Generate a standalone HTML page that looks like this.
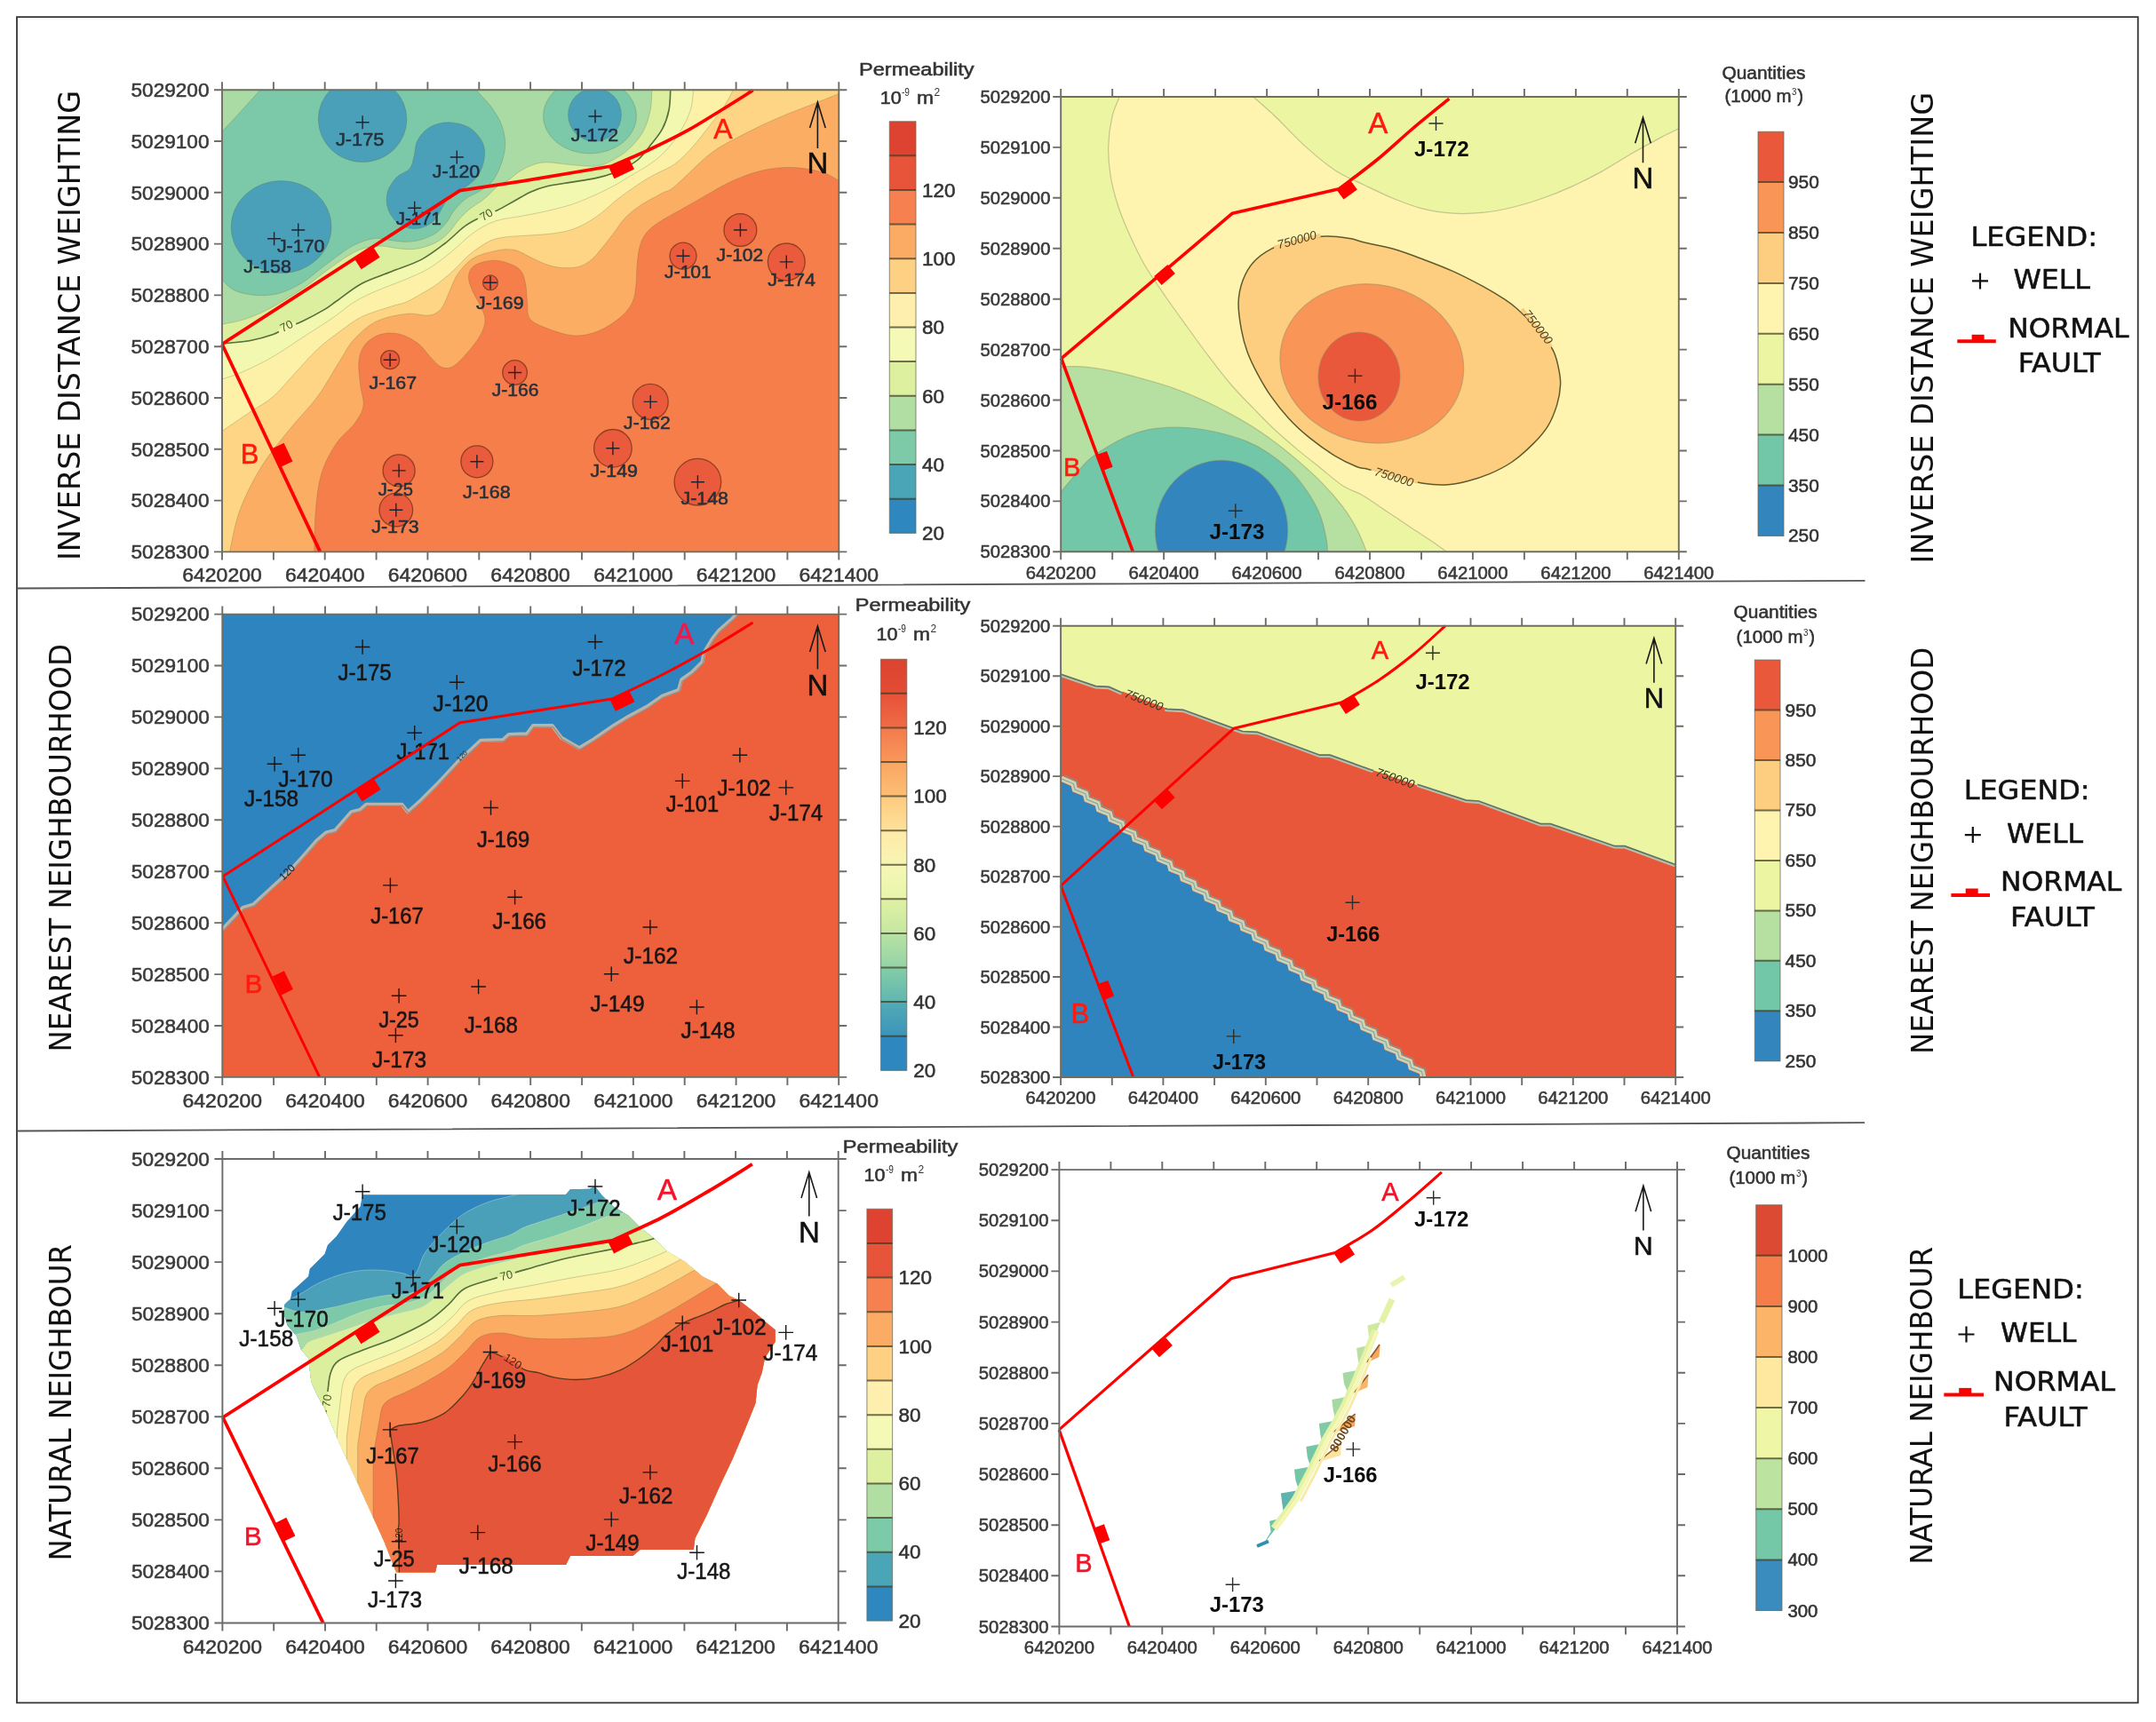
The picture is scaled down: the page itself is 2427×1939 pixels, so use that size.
<!DOCTYPE html>
<html><head><meta charset="utf-8"><title>Interpolation maps</title>
<style>html,body{margin:0;padding:0;background:#fff}svg{display:block;filter:blur(0.75px)}text{font-family:"Liberation Sans",sans-serif}</style>
</head><body>
<svg width="2427" height="1939" viewBox="0 0 2427 1939">
<rect x="0" y="0" width="2427" height="1939" fill="#ffffff"/>
<path d="M19 19.2H2406.7V1917.3H19Z" stroke="#333" stroke-width="1.8" fill="none"/>
<path d="M19 662.5L2099.5 653.8M19 1273.5L2099 1264.2" stroke="#555" stroke-width="1.8" fill="none"/>
<clipPath id="cp1"><rect x="250" y="101.2" width="694.3" height="520.2"/></clipPath>
<g clip-path="url(#cp1)">
<rect x="249" y="100.2" width="696.3" height="522.2" fill="#aadba5"/>
<path d="M249.7 315C252.3 317.1 258.4 324.6 265.1 327.5C271.9 330.4 281.8 332.2 290.2 332.6C298.6 333 306.9 332.4 315.3 330C323.7 327.6 332 323.4 340.4 318.3C348.8 313.2 357.1 305.4 365.5 299.1C373.9 292.8 383.6 285.2 390.6 280.7C397.6 276.2 401.7 274.4 407.3 272.3C412.9 270.2 418.4 268.5 424 268.2C429.6 267.9 435.1 270 440.7 270.7C446.3 271.4 451.9 272.4 457.5 272.3C463.1 272.2 468.6 271.5 474.2 269.8C479.8 268.1 486.2 265.5 490.9 262.3C495.6 259.1 499.2 254.8 502.6 250.6C506 246.4 507.4 241.7 511 237.2C514.6 232.7 519.4 227.6 524.4 223.8C529.4 220 536.1 217.9 541.1 214.6C546.1 211.3 550.6 209 554.5 203.8C558.4 198.7 562.1 190.7 564.5 183.7C566.9 176.7 568.7 169.2 568.7 161.9C568.7 154.7 567.1 147.2 564.5 140.2C561.9 133.2 557 125.9 552.8 120.1C548.6 114.2 542.2 108.4 539.4 105.1C536.6 101.8 536.6 100.8 536.1 100L294 100C290.3 104.1 279.4 116.4 272 124.5C264.6 132.6 253.4 144.6 249.7 148.6Z" fill="#7bc9a8" stroke="#6b6b3a" stroke-opacity="0.28" stroke-width="1"/>
<ellipse cx="664" cy="130.5" rx="52.5" ry="42.5" fill="#7bc9a8" stroke="#6b6b3a" stroke-opacity="0.28" stroke-width="1"/>
<ellipse cx="408.1" cy="134.3" rx="49.8" ry="48.3" fill="#4aa0b8" stroke="#6b6b3a" stroke-opacity="0.28" stroke-width="1"/>
<ellipse cx="316.6" cy="255.6" rx="56.5" ry="52" fill="#4aa0b8" stroke="#6b6b3a" stroke-opacity="0.28" stroke-width="1"/>
<circle cx="669.5" cy="129.3" r="30" fill="#4aa0b8" stroke="#6b6b3a" stroke-opacity="0.28" stroke-width="1"/>
<path d="M505 137.7C512.3 137.8 521.7 139.8 528 143.5C534.3 147.2 540.1 154.2 543 160C545.9 165.8 546.1 171.7 545.3 178C544.5 184.3 541.9 192.3 538 198C534.1 203.7 527.3 208.5 522 212C516.7 215.5 509.8 215.7 506 219C502.2 222.3 502.2 226.8 499 232C495.8 237.2 492.2 245.8 487 250C481.8 254.2 474.3 257.2 468 257.5C461.7 257.8 454.2 255.6 449 252C443.8 248.4 439.2 241.8 437 236C434.8 230.2 434.5 223 436 217C437.5 211 441.8 204.5 446 200C450.2 195.5 457.7 194 461 190C464.3 186 464.5 181.3 466 176C467.5 170.7 467 163.5 470 158C473 152.5 478.2 146.4 484 143C489.8 139.6 497.7 137.6 505 137.7Z" fill="#4aa0b8" stroke="#6b6b3a" stroke-opacity="0.28" stroke-width="1"/>
<path d="M250 365.1C253.9 364.3 265.4 362.6 273.5 360.1C281.6 357.6 290.8 353.7 298.5 350C306.2 346.3 312.2 342.7 320 338C327.8 333.3 336.7 327.8 345 322C353.3 316.2 361.7 309 370 303C378.3 297 388 290 395 286C402 282 406.2 280.5 412 279C417.8 277.5 423.7 276.8 430 277C436.3 277.2 443.3 279.5 450 280C456.7 280.5 463.2 281.2 470 280C476.8 278.8 485.1 276 490.9 273C496.7 270 500.8 266.2 505 262C509.2 257.8 512.2 252.3 516 248C519.8 243.7 523.2 240 528 236C532.8 232 539.7 228.3 545 224C550.3 219.7 555.5 213.5 560 210C564.5 206.5 567.8 205.8 572 203C576.2 200.2 580.3 195.9 585 193C589.7 190.1 594.9 187.3 600 185.6C605.1 183.9 608.5 182.8 615.8 182.8C623.1 182.8 634.3 184.9 643.6 185.6C652.9 186.3 663.8 187.9 671.5 187C679.2 186.1 684.1 183.1 690 180C695.9 176.9 701.5 173.8 707.1 168.6C712.7 163.3 719.6 156 723.8 148.5C728 141 730.5 131.6 732.2 123.5C733.9 115.4 733.6 103.9 733.9 100L946.3 99.2L946.3 623.4L249 623.4Z" fill="#dcef9f" stroke="#6b6b3a" stroke-opacity="0.28" stroke-width="1"/>
<path d="M250 386.8C251.7 386.7 254.8 386.6 260.1 386C265.4 385.4 274 385 281.8 383.5C289.6 382 299.9 379.3 306.9 376.8C313.9 374.3 318 370.9 323.6 368.4C329.2 365.9 333.4 365 340.4 361.7C347.4 358.4 359.1 352.2 365.5 348.4C371.9 344.6 371.8 343.9 378.8 339C385.8 334.1 397 324.7 407.3 319.2C417.6 313.7 429.6 310.3 440.7 305.8C451.8 301.3 464.1 297.7 474.2 292.4C484.2 287.1 492.6 280.4 501 274C509.4 267.6 516.3 259.5 524.4 253.9C532.5 248.3 543.6 243.4 549.5 240.5C555.4 237.6 555.1 239 560 236.7C564.9 234.4 572.4 229.9 578.6 226.5C584.8 223.1 591 219 597.2 216.2C603.4 213.4 608.1 211.5 615.8 209.7C623.5 207.8 634.3 206.6 643.6 205.1C652.9 203.6 663.8 202.1 671.5 200.4C679.2 198.7 684.7 196.9 690.1 194.9C695.5 192.9 699.4 190.9 704 188.4C708.6 185.9 713.3 184.1 718 180C722.7 175.9 727.6 169.4 732.2 163.6C736.8 157.8 742.1 151.9 745.6 145.2C749.1 138.5 751.6 131 753.1 123.5C754.6 116 754.5 103.9 754.8 100L946.3 99.2L946.3 623.4L249 623.4Z" fill="#f3f8b1" stroke="#6b6b3a" stroke-opacity="0.28" stroke-width="1"/>
<path d="M250 427C253.9 425.6 264 422.8 273.5 418.6C283 414.4 295.8 408.3 306.9 401.9C318 395.5 329.2 387.4 340.4 380.1C351.5 372.9 364.1 365.1 373.8 358.4C383.6 351.7 390.5 345.1 398.9 340C407.3 334.9 414.2 331.8 424 327.5C433.8 323.2 447.7 318.4 457.5 314.2C467.3 310 474.2 307.4 482.6 302.4C491 297.4 499.2 290.7 507.6 284C516 277.3 524.3 268.2 532.7 262.3C541.1 256.4 548.6 252.1 557.8 248.9C567 245.7 578.2 245.1 587.9 243.2C597.6 241.3 606.5 239.8 615.8 237.6C625.1 235.4 635.1 233 643.6 230.2C652.1 227.4 659.1 224.3 666.9 220.9C674.6 217.5 683.1 213.4 690.1 209.7C697.1 206 701.7 202.8 708.7 198.6C715.7 194.4 725.2 189.3 731.9 184.6C738.6 179.9 743.3 176.3 748.9 170.3C754.5 164.3 760.9 156.3 765.6 148.5C770.4 140.7 774.9 131.6 777.4 123.5C779.9 115.4 780.2 103.9 780.7 100L946.3 99.2L946.3 623.4L249 623.4Z" fill="#fdf0a7" stroke="#6b6b3a" stroke-opacity="0.28" stroke-width="1"/>
<path d="M250 485.5C255.3 481.9 272.3 470.2 281.8 463.8C291.3 457.4 298.5 454.4 306.9 447.1C315.3 439.9 323.6 429.2 332 420.3C340.4 411.4 348.7 401.3 357.1 393.5C365.5 385.7 373.8 379.6 382.2 373.5C390.6 367.4 397.6 361.4 407.3 356.7C417.1 351.9 432.3 347.8 440.7 345C449.1 342.2 451.9 342.4 457.5 340C463.1 337.6 468.6 334.1 474.2 330.9C479.8 327.7 484.8 325.3 490.9 320.8C497 316.3 504.9 309.7 511 304.1C517.1 298.5 521.3 292.7 527.7 287.4C534.1 282.1 543.1 275.6 549.5 272.3C555.9 269 559.8 268.4 566.2 267.3C572.6 266.2 579.6 266.1 587.9 265.5C596.2 264.9 607.3 264.5 615.8 263.6C624.3 262.7 632 261.8 639 259.9C646 258 651.4 255.8 657.6 252.5C663.8 249.2 670 245.1 676.2 240.4C682.4 235.8 687.8 230 694.8 224.6C701.8 219.2 711 212.6 718 207.9C725 203.2 729.6 200.6 736.6 196.7C743.6 192.8 752.6 189.9 759.8 184.6C767 179.3 773.3 172.4 780 165C786.7 157.6 794.2 147.5 800 140C805.8 132.5 810.7 126.7 815 120C819.3 113.3 824.2 103.3 826 100L946.3 99.2L946.3 623.4L249 623.4Z" fill="#fdd585" stroke="#6b6b3a" stroke-opacity="0.28" stroke-width="1"/>
<path d="M258.4 622.5C260.3 614.5 264 590.6 270.1 574.2C276.2 557.8 285.7 539.3 295.2 524C304.7 508.7 316.7 495 327 482.2C337.3 469.4 347.9 459.7 357.1 447.1C366.3 434.6 375.2 417.8 382.2 406.9C389.2 396 391.9 389.3 398.9 381.8C405.9 374.3 414.2 366.4 424 361.7C433.8 357 447.7 354.5 457.5 353.4C467.3 352.3 476.5 355.7 482.6 355.1C488.7 354.5 491.2 352.5 494.3 350C497.4 347.5 498.8 344.3 501 340C503.2 335.7 505.1 329.6 507.6 324.2C510.1 318.8 511.8 313.1 516 307.5C520.2 301.9 525.7 294.9 532.7 290.7C539.7 286.5 550.1 284 557.8 282.4C565.4 280.8 572 280.1 578.6 281.3C585.2 282.5 591 286.9 597.2 289.7C603.4 292.5 609.6 296 615.8 298C622 300 628.1 301.4 634.3 301.7C640.5 302 647.5 301.6 652.9 299.9C658.3 298.2 662.5 295.2 666.9 291.5C671.2 287.8 675.1 282.2 679 277.6C682.9 273 685.9 269 690.1 263.6C694.3 258.2 698.6 250.6 704 245C709.4 239.4 715.6 234.8 722.6 230.2C729.6 225.6 739.7 220.6 745.9 217.2C752.1 213.8 750.9 217 759.8 209.7C768.7 202.4 787 182.9 799.1 173.6C811.2 164.2 820.1 160.3 832.6 153.6C845.1 146.9 860.5 139.6 874.4 133.5C888.3 127.4 904.4 121.5 916.2 116.8C928 112.1 940.4 107 945.3 105.1L946.3 99.2L946.3 623.4L249 623.4Z" fill="#fbad64" stroke="#6b6b3a" stroke-opacity="0.28" stroke-width="1"/>
<path d="M353.8 622.5C354.1 614.5 354 589.2 355.4 574.2C356.8 559.2 358.2 545 362.1 532.4C366 519.8 372.7 508.1 378.8 498.9C384.9 489.7 393.9 484.2 398.9 477.2C403.9 470.2 407.9 464.4 409 457.1C410.1 449.9 406.5 442.1 405.6 433.7C404.8 425.3 403.1 414.4 403.9 406.9C404.7 399.4 406.7 393.5 410.6 388.5C414.5 383.5 421 378.9 427.4 376.8C433.8 374.7 441.9 374.3 449.1 376C456.3 377.7 464.7 382.2 470.8 386.8C476.9 391.4 481.4 399.1 485.9 403.6C490.4 408.1 493.4 412.2 497.6 413.6C501.8 415 506 415 511 411.9C516 408.8 522.7 401 527.7 395.2C532.7 389.4 538 382.6 541.1 376.8C544.2 371 546.1 365.4 546.1 360.1C546.1 354.8 543.3 350 541.1 345C538.9 340 535.2 335 533 330C530.8 325 528.2 319.5 527.7 315C527.2 310.5 527.8 306.2 530 303C532.2 299.8 536.5 297.4 541.1 295.8C545.7 294.2 552.3 293 557.8 293.2C563.3 293.4 569.2 295.2 573.9 297.1C578.6 299 583 300.8 586 304.5C589 308.2 590.4 313.5 591.6 319.4C592.9 325.3 592.8 333.6 593.5 340C594.2 346.4 593 353.3 596 358C599 362.7 603.3 364.7 611.5 368C619.7 371.3 634.8 377 645 377.8C655.2 378.6 663.9 376.5 672.9 373C681.9 369.5 692.2 362.5 698.7 357C705.2 351.5 709.1 346.2 712 340C714.9 333.8 715.2 326.7 716 320C716.8 313.3 716.3 307 717 300C717.7 293 718.3 284.2 720 278C721.7 271.8 723.5 267.6 727 263C730.5 258.4 734.9 254.9 741.2 250.6C747.5 246.3 756.5 241.7 764.8 237C773 232.3 780.8 227.7 790.7 222.2C800.6 216.7 813.1 208.8 824.2 203.8C835.4 198.8 846.5 194.6 857.6 192C868.8 189.4 879.9 188.2 891.1 188.5C902.3 188.8 915.6 191.1 924.6 193.7C933.6 196.2 941.8 202.1 945.3 203.8L946.3 99.2L946.3 623.4L249 623.4Z" fill="#f57e4a" stroke="#6b6b3a" stroke-opacity="0.28" stroke-width="1"/>
<path d="M250 386.8C251.7 386.7 254.8 386.6 260.1 386C265.4 385.4 274 385 281.8 383.5C289.6 382 299.9 379.3 306.9 376.8C313.9 374.3 318 370.9 323.6 368.4C329.2 365.9 333.4 365 340.4 361.7C347.4 358.4 359.1 352.2 365.5 348.4C371.9 344.6 371.8 343.9 378.8 339C385.8 334.1 397 324.7 407.3 319.2C417.6 313.7 429.6 310.3 440.7 305.8C451.8 301.3 464.1 297.7 474.2 292.4C484.2 287.1 492.6 280.4 501 274C509.4 267.6 516.3 259.5 524.4 253.9C532.5 248.3 543.6 243.4 549.5 240.5C555.4 237.6 555.1 239 560 236.7C564.9 234.4 572.4 229.9 578.6 226.5C584.8 223.1 591 219 597.2 216.2C603.4 213.4 608.1 211.5 615.8 209.7C623.5 207.8 634.3 206.6 643.6 205.1C652.9 203.6 663.8 202.1 671.5 200.4C679.2 198.7 684.7 196.9 690.1 194.9C695.5 192.9 699.4 190.9 704 188.4C708.6 185.9 713.3 184.1 718 180C722.7 175.9 727.6 169.4 732.2 163.6C736.8 157.8 742.1 151.9 745.6 145.2C749.1 138.5 751.6 131 753.1 123.5C754.6 116 754.5 103.9 754.8 100" stroke="#55703a" stroke-width="1.6" fill="none"/>
<g transform="rotate(-27 324.5 371)"><rect x="314" y="362.3" width="21" height="4.2" fill="#dcef9f"/><rect x="314" y="366.3" width="21" height="4" fill="#f3f8b1"/><text x="324.5" y="371" font-size="13" fill="#4a5a28" text-anchor="middle">70</text></g>
<g transform="rotate(-32 549.8 245.5)"><rect x="539.3" y="236.8" width="21" height="4.2" fill="#dcef9f"/><rect x="539.3" y="240.8" width="21" height="4" fill="#f3f8b1"/><text x="549.8" y="245.5" font-size="13" fill="#4a5a28" text-anchor="middle">70</text></g>
<circle cx="552" cy="318.3" r="8.4" fill="#e95b3c" stroke="#7a3418" stroke-opacity="0.8" stroke-width="1.3"/>
<circle cx="833.4" cy="259" r="18.4" fill="#e95b3c" stroke="#7a3418" stroke-opacity="0.8" stroke-width="1.3"/>
<circle cx="769" cy="288.2" r="15" fill="#e95b3c" stroke="#7a3418" stroke-opacity="0.8" stroke-width="1.3"/>
<circle cx="885.3" cy="294.9" r="20.9" fill="#e95b3c" stroke="#7a3418" stroke-opacity="0.8" stroke-width="1.3"/>
<circle cx="439.1" cy="405.2" r="10.5" fill="#e95b3c" stroke="#7a3418" stroke-opacity="0.8" stroke-width="1.3"/>
<circle cx="579.6" cy="419.5" r="13.8" fill="#e95b3c" stroke="#7a3418" stroke-opacity="0.8" stroke-width="1.3"/>
<circle cx="449.1" cy="529.9" r="18" fill="#e95b3c" stroke="#7a3418" stroke-opacity="0.8" stroke-width="1.3"/>
<circle cx="536.9" cy="519.8" r="18" fill="#e95b3c" stroke="#7a3418" stroke-opacity="0.8" stroke-width="1.3"/>
<circle cx="445.8" cy="574.2" r="18.8" fill="#e95b3c" stroke="#7a3418" stroke-opacity="0.8" stroke-width="1.3"/>
<circle cx="732.2" cy="452.4" r="20" fill="#e95b3c" stroke="#7a3418" stroke-opacity="0.8" stroke-width="1.3"/>
<circle cx="689.9" cy="504.8" r="21.3" fill="#e95b3c" stroke="#7a3418" stroke-opacity="0.8" stroke-width="1.3"/>
<circle cx="785.4" cy="542.7" r="26.3" fill="#e95b3c" stroke="#7a3418" stroke-opacity="0.8" stroke-width="1.3"/>
</g>
<path d="M400.6 137.7H415.6M408.1 130.2V145.2" stroke="#1d2430" stroke-width="1.4" fill="none"/>
<text x="378" y="163.6" font-size="21" fill="#26303a" textLength="54.4" lengthAdjust="spacingAndGlyphs" stroke="#26303a" stroke-width="0.55">J-175</text>
<path d="M506.8 177H521.8M514.3 169.5V184.5" stroke="#1d2430" stroke-width="1.4" fill="none"/>
<text x="486.7" y="200.4" font-size="21" fill="#26303a" textLength="53.6" lengthAdjust="spacingAndGlyphs" stroke="#26303a" stroke-width="0.55">J-120</text>
<path d="M459.2 234.2H474.2M466.7 226.7V241.7" stroke="#1d2430" stroke-width="1.4" fill="none"/>
<text x="445.8" y="253.1" font-size="21" fill="#26303a" textLength="51" lengthAdjust="spacingAndGlyphs" stroke="#26303a" stroke-width="0.55">J-171</text>
<path d="M328.2 259H343.2M335.7 251.5V266.5" stroke="#1d2430" stroke-width="1.4" fill="none"/>
<text x="311.9" y="284" font-size="21" fill="#26303a" textLength="53.6" lengthAdjust="spacingAndGlyphs" stroke="#26303a" stroke-width="0.55">J-170</text>
<path d="M301.1 268.7H316.1M308.6 261.2V276.2" stroke="#1d2430" stroke-width="1.4" fill="none"/>
<text x="274.3" y="306.6" font-size="21" fill="#26303a" textLength="53.5" lengthAdjust="spacingAndGlyphs" stroke="#26303a" stroke-width="0.55">J-158</text>
<path d="M544.5 318.3H559.5M552 310.8V325.8" stroke="#1d2430" stroke-width="1.4" fill="none"/>
<text x="536.1" y="347.6" font-size="21" fill="#26303a" textLength="53.5" lengthAdjust="spacingAndGlyphs" stroke="#26303a" stroke-width="0.55">J-169</text>
<path d="M662.5 131H677.5M670 123.5V138.5" stroke="#1d2430" stroke-width="1.4" fill="none"/>
<text x="642.7" y="159.4" font-size="21" fill="#26303a" textLength="53.5" lengthAdjust="spacingAndGlyphs" stroke="#26303a" stroke-width="0.55">J-172</text>
<path d="M825.9 259H840.9M833.4 251.5V266.5" stroke="#1d2430" stroke-width="1.4" fill="none"/>
<text x="806.6" y="294.1" font-size="21" fill="#26303a" textLength="52.7" lengthAdjust="spacingAndGlyphs" stroke="#26303a" stroke-width="0.55">J-102</text>
<path d="M761.5 288.2H776.5M769 280.7V295.7" stroke="#1d2430" stroke-width="1.4" fill="none"/>
<text x="748.1" y="312.5" font-size="21" fill="#26303a" textLength="52.7" lengthAdjust="spacingAndGlyphs" stroke="#26303a" stroke-width="0.55">J-101</text>
<path d="M877.8 294.9H892.8M885.3 287.4V302.4" stroke="#1d2430" stroke-width="1.4" fill="none"/>
<text x="864.3" y="321.7" font-size="21" fill="#26303a" textLength="53.6" lengthAdjust="spacingAndGlyphs" stroke="#26303a" stroke-width="0.55">J-174</text>
<path d="M431.6 405.2H446.6M439.1 397.7V412.7" stroke="#1d2430" stroke-width="1.4" fill="none"/>
<text x="415.6" y="437.9" font-size="21" fill="#26303a" textLength="53.6" lengthAdjust="spacingAndGlyphs" stroke="#26303a" stroke-width="0.55">J-167</text>
<path d="M572.1 419.5H587.1M579.6 412V427" stroke="#1d2430" stroke-width="1.4" fill="none"/>
<text x="553.7" y="446.2" font-size="21" fill="#26303a" textLength="52.8" lengthAdjust="spacingAndGlyphs" stroke="#26303a" stroke-width="0.55">J-166</text>
<path d="M441.6 529.9H456.6M449.1 522.4V537.4" stroke="#1d2430" stroke-width="1.4" fill="none"/>
<text x="425.7" y="557.5" font-size="21" fill="#26303a" textLength="39.3" lengthAdjust="spacingAndGlyphs" stroke="#26303a" stroke-width="0.55">J-25</text>
<path d="M529.4 519.8H544.4M536.9 512.3V527.3" stroke="#1d2430" stroke-width="1.4" fill="none"/>
<text x="521" y="560.8" font-size="21" fill="#26303a" textLength="53.6" lengthAdjust="spacingAndGlyphs" stroke="#26303a" stroke-width="0.55">J-168</text>
<path d="M438.3 574.2H453.3M445.8 566.7V581.7" stroke="#1d2430" stroke-width="1.4" fill="none"/>
<text x="418.2" y="600.1" font-size="21" fill="#26303a" textLength="53.5" lengthAdjust="spacingAndGlyphs" stroke="#26303a" stroke-width="0.55">J-173</text>
<path d="M724.7 452.4H739.7M732.2 444.9V459.9" stroke="#1d2430" stroke-width="1.4" fill="none"/>
<text x="702.1" y="483" font-size="21" fill="#26303a" textLength="52.7" lengthAdjust="spacingAndGlyphs" stroke="#26303a" stroke-width="0.55">J-162</text>
<path d="M682.4 504.8H697.4M689.9 497.3V512.3" stroke="#1d2430" stroke-width="1.4" fill="none"/>
<text x="664.4" y="536.6" font-size="21" fill="#26303a" textLength="53.6" lengthAdjust="spacingAndGlyphs" stroke="#26303a" stroke-width="0.55">J-149</text>
<path d="M777.9 542.7H792.9M785.4 535.2V550.2" stroke="#1d2430" stroke-width="1.4" fill="none"/>
<text x="766.5" y="567.5" font-size="21" fill="#26303a" textLength="53.5" lengthAdjust="spacingAndGlyphs" stroke="#26303a" stroke-width="0.55">J-148</text>
<path d="M250 387.5L517.7 214.6L590 203.7L688.7 187C695.9 183.8 717.8 174.7 732 168C746.2 161.3 760.7 154.2 774 146.9C787.3 139.6 799.7 131.5 812 124C824.3 116.5 841.7 105.4 847.6 101.7" stroke="#ff0000" stroke-width="3.8" fill="none" stroke-linejoin="round"/>
<path d="M250 387.5L360.4 621.4" stroke="#ff0000" stroke-width="3.8" fill="none"/>
<path d="M398.7 291.1L419.7 277.5L427.6 289.7L406.6 303.3Z" fill="#ff0000"/>
<path d="M685.2 188.3L707.6 177.3L714 190.4L691.5 201.3Z" fill="#ff0000"/>
<path d="M306.5 505L316.3 525.8L329.4 519.6L319.6 498.8Z" fill="#ff0000"/>
<text x="813.8" y="156.1" font-size="32" fill="#ff1a10" stroke="#ff1a10" stroke-width="0.55" text-anchor="middle">A</text>
<text x="281" y="522.3" font-size="31" fill="#ff1a10" stroke="#ff1a10" stroke-width="0.55" text-anchor="middle">B</text>
<path d="M920.4 115.1V167M911.6 144.1L920.4 115.1L929.2 144.1" stroke="#1a1a1a" stroke-width="1.6" fill="none"/>
<text x="920.4" y="194.5" font-size="33" fill="#111" stroke="#111" stroke-width="0.55" text-anchor="middle">N</text>
<path d="M250 92.2V630.4M241 101.2H953.3M241 621.4H953.3M944.3 92.2V630.4M250 92.2V101.2M250 621.4V630.4M307.9 92.2V101.2M307.9 621.4V630.4M365.7 92.2V101.2M365.7 621.4V630.4M423.6 92.2V101.2M423.6 621.4V630.4M481.4 92.2V101.2M481.4 621.4V630.4M539.3 92.2V101.2M539.3 621.4V630.4M597.1 92.2V101.2M597.1 621.4V630.4M655 92.2V101.2M655 621.4V630.4M712.9 92.2V101.2M712.9 621.4V630.4M770.7 92.2V101.2M770.7 621.4V630.4M828.6 92.2V101.2M828.6 621.4V630.4M886.4 92.2V101.2M886.4 621.4V630.4M944.3 92.2V101.2M944.3 621.4V630.4M241 101.2H250M944.3 101.2H953.3M241 159H250M944.3 159H953.3M241 216.8H250M944.3 216.8H953.3M241 274.6H250M944.3 274.6H953.3M241 332.4H250M944.3 332.4H953.3M241 390.2H250M944.3 390.2H953.3M241 448H250M944.3 448H953.3M241 505.8H250M944.3 505.8H953.3M241 563.6H250M944.3 563.6H953.3M241 621.4H250M944.3 621.4H953.3" stroke="#6e6e62" stroke-width="1.9" fill="none"/>
<text x="235.5" y="108.9" font-size="22" fill="#3a3a3a" textLength="88" lengthAdjust="spacingAndGlyphs" stroke="#3a3a3a" stroke-width="0.55" text-anchor="end">5029200</text>
<text x="235.5" y="166.7" font-size="22" fill="#3a3a3a" textLength="88" lengthAdjust="spacingAndGlyphs" stroke="#3a3a3a" stroke-width="0.55" text-anchor="end">5029100</text>
<text x="235.5" y="224.5" font-size="22" fill="#3a3a3a" textLength="88" lengthAdjust="spacingAndGlyphs" stroke="#3a3a3a" stroke-width="0.55" text-anchor="end">5029000</text>
<text x="235.5" y="282.3" font-size="22" fill="#3a3a3a" textLength="88" lengthAdjust="spacingAndGlyphs" stroke="#3a3a3a" stroke-width="0.55" text-anchor="end">5028900</text>
<text x="235.5" y="340.1" font-size="22" fill="#3a3a3a" textLength="88" lengthAdjust="spacingAndGlyphs" stroke="#3a3a3a" stroke-width="0.55" text-anchor="end">5028800</text>
<text x="235.5" y="397.9" font-size="22" fill="#3a3a3a" textLength="88" lengthAdjust="spacingAndGlyphs" stroke="#3a3a3a" stroke-width="0.55" text-anchor="end">5028700</text>
<text x="235.5" y="455.7" font-size="22" fill="#3a3a3a" textLength="88" lengthAdjust="spacingAndGlyphs" stroke="#3a3a3a" stroke-width="0.55" text-anchor="end">5028600</text>
<text x="235.5" y="513.5" font-size="22" fill="#3a3a3a" textLength="88" lengthAdjust="spacingAndGlyphs" stroke="#3a3a3a" stroke-width="0.55" text-anchor="end">5028500</text>
<text x="235.5" y="571.3" font-size="22" fill="#3a3a3a" textLength="88" lengthAdjust="spacingAndGlyphs" stroke="#3a3a3a" stroke-width="0.55" text-anchor="end">5028400</text>
<text x="235.5" y="629.1" font-size="22" fill="#3a3a3a" textLength="88" lengthAdjust="spacingAndGlyphs" stroke="#3a3a3a" stroke-width="0.55" text-anchor="end">5028300</text>
<text x="250" y="655.4" font-size="22" fill="#3a3a3a" textLength="89.5" lengthAdjust="spacingAndGlyphs" stroke="#3a3a3a" stroke-width="0.55" text-anchor="middle">6420200</text>
<text x="365.7" y="655.4" font-size="22" fill="#3a3a3a" textLength="89.5" lengthAdjust="spacingAndGlyphs" stroke="#3a3a3a" stroke-width="0.55" text-anchor="middle">6420400</text>
<text x="481.4" y="655.4" font-size="22" fill="#3a3a3a" textLength="89.5" lengthAdjust="spacingAndGlyphs" stroke="#3a3a3a" stroke-width="0.55" text-anchor="middle">6420600</text>
<text x="597.1" y="655.4" font-size="22" fill="#3a3a3a" textLength="89.5" lengthAdjust="spacingAndGlyphs" stroke="#3a3a3a" stroke-width="0.55" text-anchor="middle">6420800</text>
<text x="712.9" y="655.4" font-size="22" fill="#3a3a3a" textLength="89.5" lengthAdjust="spacingAndGlyphs" stroke="#3a3a3a" stroke-width="0.55" text-anchor="middle">6421000</text>
<text x="828.6" y="655.4" font-size="22" fill="#3a3a3a" textLength="89.5" lengthAdjust="spacingAndGlyphs" stroke="#3a3a3a" stroke-width="0.55" text-anchor="middle">6421200</text>
<text x="944.3" y="655.4" font-size="22" fill="#3a3a3a" textLength="89.5" lengthAdjust="spacingAndGlyphs" stroke="#3a3a3a" stroke-width="0.55" text-anchor="middle">6421400</text>
<rect x="1001.3" y="136.7" width="29.7" height="38.9" fill="#dd4330"/>
<rect x="1001.3" y="175.3" width="29.7" height="38.9" fill="#e85439"/>
<rect x="1001.3" y="214" width="29.7" height="38.9" fill="#f6804f"/>
<rect x="1001.3" y="252.6" width="29.7" height="38.9" fill="#fbab64"/>
<rect x="1001.3" y="291.2" width="29.7" height="38.9" fill="#fdd083"/>
<rect x="1001.3" y="329.9" width="29.7" height="38.9" fill="#feefaf"/>
<rect x="1001.3" y="368.5" width="29.7" height="38.9" fill="#f4f9b6"/>
<rect x="1001.3" y="407.1" width="29.7" height="38.9" fill="#ddf0a0"/>
<rect x="1001.3" y="445.8" width="29.7" height="38.9" fill="#b1dfa3"/>
<rect x="1001.3" y="484.4" width="29.7" height="38.9" fill="#7ccaa8"/>
<rect x="1001.3" y="523" width="29.7" height="38.9" fill="#4aa5b6"/>
<rect x="1001.3" y="561.7" width="29.7" height="38.9" fill="#2f87bf"/>
<path d="M1001.3 136.7H1031V600.3H1001.3Z" stroke="#6a6a5a" stroke-opacity="0.7" stroke-width="1.1" fill="none"/>
<path d="M1001.3 175.3H1031M1001.3 214H1031M1001.3 252.6H1031M1001.3 291.2H1031M1001.3 329.9H1031M1001.3 368.5H1031M1001.3 407.1H1031M1001.3 445.8H1031M1001.3 484.4H1031M1001.3 523H1031M1001.3 561.7H1031" stroke="#3c3a22" stroke-opacity="0.72" stroke-width="2" fill="none"/>
<text x="1038" y="221.7" font-size="22" fill="#333" textLength="37.5" lengthAdjust="spacingAndGlyphs" stroke="#333" stroke-width="0.55">120</text>
<text x="1038" y="298.9" font-size="22" fill="#333" textLength="37.5" lengthAdjust="spacingAndGlyphs" stroke="#333" stroke-width="0.55">100</text>
<text x="1038" y="376.2" font-size="22" fill="#333" textLength="25" lengthAdjust="spacingAndGlyphs" stroke="#333" stroke-width="0.55">80</text>
<text x="1038" y="453.5" font-size="22" fill="#333" textLength="25" lengthAdjust="spacingAndGlyphs" stroke="#333" stroke-width="0.55">60</text>
<text x="1038" y="530.7" font-size="22" fill="#333" textLength="25" lengthAdjust="spacingAndGlyphs" stroke="#333" stroke-width="0.55">40</text>
<text x="1038" y="608" font-size="22" fill="#333" textLength="25" lengthAdjust="spacingAndGlyphs" stroke="#333" stroke-width="0.55">20</text>
<text x="1031.8" y="85" font-size="20.5" fill="#333" textLength="129.5" lengthAdjust="spacingAndGlyphs" stroke="#333" stroke-width="0.55" text-anchor="middle">Permeability</text>
<text x="990.7" y="117" font-size="21" fill="#333" textLength="24" lengthAdjust="spacingAndGlyphs" stroke="#333" stroke-width="0.55">10</text>
<text x="1015" y="108" font-size="12" fill="#333" textLength="9" lengthAdjust="spacingAndGlyphs">-9</text>
<text x="1032" y="117" font-size="21" fill="#333" textLength="19" lengthAdjust="spacingAndGlyphs" stroke="#333" stroke-width="0.55">m</text>
<text x="1051.5" y="108" font-size="12" fill="#333">2</text>
<clipPath id="cp2"><rect x="1194.2" y="109" width="695.6" height="512.3"/></clipPath>
<g clip-path="url(#cp2)">
<rect x="1193.2" y="108" width="697.6" height="514.3" fill="#fef4b0"/>
<path d="M1261.1 107C1259.6 111.1 1254.1 121.8 1251.9 131.5C1249.7 141.2 1248 153.8 1247.7 164.9C1247.4 176.1 1248.4 187.2 1250.2 198.4C1252 209.6 1255 220.7 1258.6 231.8C1262.2 243 1267 254.2 1272 265.3C1277 276.4 1282 287.2 1288.7 298.7C1295.4 310.1 1304.3 322.6 1312.1 334C1319.9 345.4 1327.5 355.8 1335.6 367C1343.7 378.2 1352.2 390.2 1360.6 401.2C1368.9 412.2 1377.3 423.2 1385.7 433C1394.1 442.8 1402.4 451.1 1410.8 459.7C1419.2 468.3 1427.5 477 1435.9 484.8C1444.3 492.6 1452.6 499.6 1461 506.6C1469.4 513.6 1477.7 520 1486.1 526.7C1494.5 533.4 1503 541.4 1511.2 546.7C1519.4 552 1526.8 553.6 1535 558.4C1543.2 563.1 1551.7 569.6 1560.1 575.2C1568.5 580.8 1576.8 586.3 1585.2 591.9C1593.6 597.5 1602.7 603.4 1610.3 608.6C1617.9 613.8 1627.5 620.6 1631 623L1192.2 624.3L1192.2 106Z" fill="#ebf5a2" stroke="#8c8c64" stroke-opacity="0.45" stroke-width="1.2"/>
<path d="M1408.5 107C1413.1 111.1 1425.8 121.8 1435.9 131.5C1446.1 141.2 1458.2 154.9 1469.4 164.9C1480.6 174.9 1491.9 184.5 1502.8 191.7C1513.7 198.9 1524 202.7 1535 208C1546 213.3 1557.3 219 1568.5 223.5C1579.7 228 1590.8 232.4 1601.9 235.2C1613.1 238 1624.2 239.5 1635.4 240.2C1646.6 240.9 1657.7 240.5 1668.8 239.4C1679.9 238.3 1691.1 236.2 1702.3 233.5C1713.5 230.8 1724.5 227.4 1735.7 223.5C1746.9 219.6 1758.1 215.1 1769.2 210.1C1780.3 205.1 1791.4 199.5 1802.6 193.4C1813.8 187.3 1824.9 179.7 1836.1 173.3C1847.3 166.9 1860.3 159.8 1869.6 154.9C1878.9 150 1888.3 145.7 1892 143.8L1892.8 106Z" fill="#ebf5a2" stroke="#8c8c64" stroke-opacity="0.45" stroke-width="1.2"/>
<path d="M1193 412.9C1197.2 412.9 1208.7 412.1 1218.5 412.9C1228.3 413.7 1240.8 415.7 1251.9 417.9C1263.1 420.1 1274.2 423.2 1285.4 426.3C1296.6 429.4 1307.7 432.4 1318.8 436.3C1329.9 440.2 1341.1 444.7 1352.3 449.7C1363.5 454.7 1374.5 460.3 1385.7 466.4C1396.9 472.5 1408.1 479 1419.2 486.5C1430.3 494 1441.4 502.4 1452.6 511.6C1463.8 520.8 1476.3 531.9 1486.1 541.7C1495.9 551.5 1504.2 561 1511.2 570.2C1518.2 579.4 1523.3 588.1 1527.9 596.9C1532.5 605.7 1537.2 618.6 1539 623L1192.2 624.3Z" fill="#b6e0a2" stroke="#8c8c64" stroke-opacity="0.45" stroke-width="1.2"/>
<path d="M1193 555.4C1195.8 552 1204.5 541.5 1210.1 535C1215.7 528.5 1219.8 522.5 1226.8 516.6C1233.8 510.8 1243.5 504.6 1251.9 499.9C1260.3 495.2 1268.6 491.1 1277 488.2C1285.4 485.3 1292.3 483.4 1302.1 482.3C1311.9 481.2 1324.4 480.8 1335.6 481.5C1346.8 482.2 1357.8 484 1369 486.5C1380.2 489 1392.7 492.7 1402.5 496.6C1412.3 500.5 1419.2 504.3 1427.6 509.9C1435.9 515.5 1445.1 522.5 1452.6 530C1460.1 537.5 1467.1 546.7 1472.7 555.1C1478.3 563.5 1482.8 571.8 1486.1 580.2C1489.4 588.6 1491.4 598.2 1492.8 605.3C1494.2 612.4 1494.4 620 1494.7 623L1192.2 624.3Z" fill="#72c7a8" stroke="#8c8c64" stroke-opacity="0.45" stroke-width="1.2"/>
<ellipse cx="1375" cy="597" rx="74.6" ry="78.7" fill="#3385be" stroke="#8c8c64" stroke-opacity="0.45" stroke-width="1.2"/>
<path d="M1394.1 340.6C1394.4 331.3 1396.3 323 1399.1 315.5C1401.9 308 1405.5 301.3 1410.8 295.4C1416.1 289.5 1423 284.4 1430.9 280.3C1438.8 276.2 1447.7 272.9 1458 270.5C1468.3 268.1 1482.5 266.4 1492.8 266.1C1503.1 265.8 1512.6 267.5 1519.6 268.6C1526.6 269.7 1526.8 270.9 1535 272.8C1543.2 274.8 1557.3 277.1 1568.5 280.3C1579.7 283.5 1590.8 287.8 1601.9 292C1613.1 296.2 1624.2 300.4 1635.4 305.4C1646.6 310.4 1659 316.9 1668.8 322.2C1678.5 327.5 1687.5 333 1693.9 337.2C1700.3 341.4 1701.6 342.2 1707.3 347.3C1713 352.4 1721.3 360.4 1728 368C1734.7 375.6 1743.1 385.3 1747.4 392.8C1751.8 400.3 1752.6 406.2 1754.1 412.9C1755.6 419.6 1756.9 425.8 1756.6 433C1756.3 440.2 1754.9 448.6 1752.5 456.4C1750.1 464.2 1746.9 472.6 1742.4 479.8C1737.9 487.1 1732.4 493.2 1725.7 499.9C1719 506.6 1710.4 514.4 1702.3 520C1694.2 525.6 1685.6 529.8 1677.2 533.4C1668.8 537 1660.5 539.6 1652.1 541.7C1643.7 543.8 1635.4 545.5 1627 545.9C1618.6 546.3 1611.4 545.7 1601.9 544.2C1592.4 542.7 1580.4 539.6 1570 537C1559.6 534.4 1546.6 530.2 1539.6 528.3C1532.6 526.4 1534 528.3 1527.9 525.8C1521.8 523.3 1511.7 518.7 1502.8 513.3C1493.9 507.9 1483 500.2 1474.4 493.2C1465.8 486.2 1458.2 479.3 1451 471.5C1443.8 463.7 1436.8 454.8 1430.9 446.4C1425 438 1420.3 429.7 1415.8 421.3C1411.3 412.9 1407.2 404.6 1404.1 396.2C1401 387.8 1399.1 380.4 1397.4 371.1C1395.7 361.8 1393.8 349.9 1394.1 340.6Z" fill="#fdce7f" stroke="#5e5a2e" stroke-width="1.5"/>
<ellipse cx="1544.3" cy="409.4" rx="104" ry="89" transform="rotate(12 1544.3 409.4)" fill="#f99556" stroke="#8c8c64" stroke-opacity="0.45" stroke-width="1.2"/>
<ellipse cx="1530" cy="424" rx="46" ry="50" fill="#e9583a" stroke="#8c8c64" stroke-opacity="0.45" stroke-width="1.2"/>
<g transform="rotate(-15 1461 274.5)"><rect x="1434" y="265.6" width="54" height="4.2" fill="#fef4b0"/><rect x="1434" y="269.6" width="54" height="4" fill="#fdce7f"/><text x="1461" y="274.5" font-size="13.5" fill="#4a4020" text-anchor="middle" font-style="italic">750000</text></g>
<g transform="rotate(52 1727.6 371)"><rect x="1700.6" y="362.1" width="54" height="4.2" fill="#fef4b0"/><rect x="1700.6" y="366.1" width="54" height="4" fill="#fdce7f"/><text x="1727.6" y="371" font-size="13.5" fill="#4a4020" text-anchor="middle" font-style="italic">750000</text></g>
<g transform="rotate(17 1568 541.5)"><rect x="1541" y="532.6" width="54" height="4.2" fill="#fdce7f"/><rect x="1541" y="536.6" width="54" height="4" fill="#fef4b0"/><text x="1568" y="541.5" font-size="13.5" fill="#4a4020" text-anchor="middle" font-style="italic">750000</text></g>
</g>
<path d="M1608.5 139H1624.5M1616.5 131V147" stroke="#2a2f2a" stroke-width="1.4" fill="none"/>
<text x="1591.9" y="175.8" font-size="23" fill="#0c0c0c" textLength="61.9" lengthAdjust="spacingAndGlyphs" font-weight="bold">J-172</text>
<path d="M1517.4 423.3H1533.4M1525.4 415.3V431.3" stroke="#2a2f2a" stroke-width="1.4" fill="none"/>
<text x="1488.6" y="460.6" font-size="23" fill="#0c0c0c" textLength="61.9" lengthAdjust="spacingAndGlyphs" font-weight="bold">J-166</text>
<path d="M1382.8 575.2H1398.8M1390.8 567.2V583.2" stroke="#2a2f2a" stroke-width="1.4" fill="none"/>
<text x="1361.5" y="607" font-size="23" fill="#0c0c0c" textLength="61.9" lengthAdjust="spacingAndGlyphs" font-weight="bold">J-173</text>
<path d="M1194.7 403.7L1387.3 240.2L1507.2 212.8C1514.3 207.3 1536.2 191.3 1550 180C1563.8 168.7 1576.5 156.5 1590 145C1603.5 133.5 1624.4 116.8 1631.3 111.1" stroke="#ff0000" stroke-width="3.6" fill="none" stroke-linejoin="round"/>
<path d="M1194.7 403.7L1275.3 621.2" stroke="#ff0000" stroke-width="3.6" fill="none"/>
<path d="M1299.2 311L1314.4 298L1322.8 307.9L1307.6 320.9Z" fill="#ff0000"/>
<path d="M1504.8 214.1L1520.2 202.9L1527.8 213.4L1512.5 224.6Z" fill="#ff0000"/>
<path d="M1234.7 512.1L1241.3 529.9L1252.6 525.7L1246 507.9Z" fill="#ff0000"/>
<text x="1551.3" y="149.9" font-size="33" fill="#ff1a10" stroke="#ff1a10" stroke-width="0.55" text-anchor="middle">A</text>
<text x="1206.7" y="535.5" font-size="29" fill="#ff1a10" stroke="#ff1a10" stroke-width="0.55" text-anchor="middle">B</text>
<path d="M1849.5 132.3V183.3M1840.7 161.3L1849.5 132.3L1858.3 161.3" stroke="#1a1a1a" stroke-width="1.6" fill="none"/>
<text x="1849.5" y="211.7" font-size="33" fill="#111" stroke="#111" stroke-width="0.55" text-anchor="middle">N</text>
<path d="M1194.2 100V630.3M1185.2 109H1898.8M1185.2 621.3H1898.8M1889.8 100V630.3M1194.2 100V109M1194.2 621.3V630.3M1252.2 100V109M1252.2 621.3V630.3M1310.1 100V109M1310.1 621.3V630.3M1368.1 100V109M1368.1 621.3V630.3M1426.1 100V109M1426.1 621.3V630.3M1484 100V109M1484 621.3V630.3M1542 100V109M1542 621.3V630.3M1600 100V109M1600 621.3V630.3M1657.9 100V109M1657.9 621.3V630.3M1715.9 100V109M1715.9 621.3V630.3M1773.9 100V109M1773.9 621.3V630.3M1831.8 100V109M1831.8 621.3V630.3M1889.8 100V109M1889.8 621.3V630.3M1185.2 109H1194.2M1889.8 109H1898.8M1185.2 165.9H1194.2M1889.8 165.9H1898.8M1185.2 222.8H1194.2M1889.8 222.8H1898.8M1185.2 279.8H1194.2M1889.8 279.8H1898.8M1185.2 336.7H1194.2M1889.8 336.7H1898.8M1185.2 393.6H1194.2M1889.8 393.6H1898.8M1185.2 450.5H1194.2M1889.8 450.5H1898.8M1185.2 507.5H1194.2M1889.8 507.5H1898.8M1185.2 564.4H1194.2M1889.8 564.4H1898.8M1185.2 621.3H1194.2M1889.8 621.3H1898.8" stroke="#6e6e62" stroke-width="1.9" fill="none"/>
<text x="1182.4" y="116" font-size="19.5" fill="#3a3a3a" textLength="78.8" lengthAdjust="spacingAndGlyphs" stroke="#3a3a3a" stroke-width="0.55" text-anchor="end">5029200</text>
<text x="1182.4" y="172.9" font-size="19.5" fill="#3a3a3a" textLength="78.8" lengthAdjust="spacingAndGlyphs" stroke="#3a3a3a" stroke-width="0.55" text-anchor="end">5029100</text>
<text x="1182.4" y="229.8" font-size="19.5" fill="#3a3a3a" textLength="78.8" lengthAdjust="spacingAndGlyphs" stroke="#3a3a3a" stroke-width="0.55" text-anchor="end">5029000</text>
<text x="1182.4" y="286.8" font-size="19.5" fill="#3a3a3a" textLength="78.8" lengthAdjust="spacingAndGlyphs" stroke="#3a3a3a" stroke-width="0.55" text-anchor="end">5028900</text>
<text x="1182.4" y="343.7" font-size="19.5" fill="#3a3a3a" textLength="78.8" lengthAdjust="spacingAndGlyphs" stroke="#3a3a3a" stroke-width="0.55" text-anchor="end">5028800</text>
<text x="1182.4" y="400.6" font-size="19.5" fill="#3a3a3a" textLength="78.8" lengthAdjust="spacingAndGlyphs" stroke="#3a3a3a" stroke-width="0.55" text-anchor="end">5028700</text>
<text x="1182.4" y="457.5" font-size="19.5" fill="#3a3a3a" textLength="78.8" lengthAdjust="spacingAndGlyphs" stroke="#3a3a3a" stroke-width="0.55" text-anchor="end">5028600</text>
<text x="1182.4" y="514.5" font-size="19.5" fill="#3a3a3a" textLength="78.8" lengthAdjust="spacingAndGlyphs" stroke="#3a3a3a" stroke-width="0.55" text-anchor="end">5028500</text>
<text x="1182.4" y="571.4" font-size="19.5" fill="#3a3a3a" textLength="78.8" lengthAdjust="spacingAndGlyphs" stroke="#3a3a3a" stroke-width="0.55" text-anchor="end">5028400</text>
<text x="1182.4" y="628.3" font-size="19.5" fill="#3a3a3a" textLength="78.8" lengthAdjust="spacingAndGlyphs" stroke="#3a3a3a" stroke-width="0.55" text-anchor="end">5028300</text>
<text x="1194.2" y="651.7" font-size="19.5" fill="#3a3a3a" textLength="79.1" lengthAdjust="spacingAndGlyphs" stroke="#3a3a3a" stroke-width="0.55" text-anchor="middle">6420200</text>
<text x="1310.1" y="651.7" font-size="19.5" fill="#3a3a3a" textLength="79.1" lengthAdjust="spacingAndGlyphs" stroke="#3a3a3a" stroke-width="0.55" text-anchor="middle">6420400</text>
<text x="1426.1" y="651.7" font-size="19.5" fill="#3a3a3a" textLength="79.1" lengthAdjust="spacingAndGlyphs" stroke="#3a3a3a" stroke-width="0.55" text-anchor="middle">6420600</text>
<text x="1542" y="651.7" font-size="19.5" fill="#3a3a3a" textLength="79.1" lengthAdjust="spacingAndGlyphs" stroke="#3a3a3a" stroke-width="0.55" text-anchor="middle">6420800</text>
<text x="1657.9" y="651.7" font-size="19.5" fill="#3a3a3a" textLength="79.1" lengthAdjust="spacingAndGlyphs" stroke="#3a3a3a" stroke-width="0.55" text-anchor="middle">6421000</text>
<text x="1773.9" y="651.7" font-size="19.5" fill="#3a3a3a" textLength="79.1" lengthAdjust="spacingAndGlyphs" stroke="#3a3a3a" stroke-width="0.55" text-anchor="middle">6421200</text>
<text x="1889.8" y="651.7" font-size="19.5" fill="#3a3a3a" textLength="79.1" lengthAdjust="spacingAndGlyphs" stroke="#3a3a3a" stroke-width="0.55" text-anchor="middle">6421400</text>
<rect x="1979" y="148.2" width="29" height="57.2" fill="#e9583a"/>
<rect x="1979" y="205.1" width="29" height="57.2" fill="#f99556"/>
<rect x="1979" y="262" width="29" height="57.2" fill="#fdce7f"/>
<rect x="1979" y="318.9" width="29" height="57.2" fill="#fef4b0"/>
<rect x="1979" y="375.8" width="29" height="57.2" fill="#ebf5a2"/>
<rect x="1979" y="432.7" width="29" height="57.2" fill="#b6e0a2"/>
<rect x="1979" y="489.6" width="29" height="57.2" fill="#72c7a8"/>
<rect x="1979" y="546.5" width="29" height="57.2" fill="#3385be"/>
<path d="M1979 148.2H2008V603.4H1979Z" stroke="#6a6a5a" stroke-opacity="0.7" stroke-width="1.1" fill="none"/>
<path d="M1979 205.1H2008M1979 262H2008M1979 318.9H2008M1979 375.8H2008M1979 432.7H2008M1979 489.6H2008M1979 546.5H2008" stroke="#3c3a22" stroke-opacity="0.72" stroke-width="2" fill="none"/>
<text x="2013" y="212.1" font-size="20" fill="#333" textLength="34.8" lengthAdjust="spacingAndGlyphs" stroke="#333" stroke-width="0.55">950</text>
<text x="2013" y="269" font-size="20" fill="#333" textLength="34.8" lengthAdjust="spacingAndGlyphs" stroke="#333" stroke-width="0.55">850</text>
<text x="2013" y="325.9" font-size="20" fill="#333" textLength="34.8" lengthAdjust="spacingAndGlyphs" stroke="#333" stroke-width="0.55">750</text>
<text x="2013" y="382.8" font-size="20" fill="#333" textLength="34.8" lengthAdjust="spacingAndGlyphs" stroke="#333" stroke-width="0.55">650</text>
<text x="2013" y="439.7" font-size="20" fill="#333" textLength="34.8" lengthAdjust="spacingAndGlyphs" stroke="#333" stroke-width="0.55">550</text>
<text x="2013" y="496.6" font-size="20" fill="#333" textLength="34.8" lengthAdjust="spacingAndGlyphs" stroke="#333" stroke-width="0.55">450</text>
<text x="2013" y="553.5" font-size="20" fill="#333" textLength="34.8" lengthAdjust="spacingAndGlyphs" stroke="#333" stroke-width="0.55">350</text>
<text x="2013" y="610.4" font-size="20" fill="#333" textLength="34.8" lengthAdjust="spacingAndGlyphs" stroke="#333" stroke-width="0.55">250</text>
<text x="1985.5" y="88.8" font-size="19.5" fill="#333" textLength="94" lengthAdjust="spacingAndGlyphs" stroke="#333" stroke-width="0.55" text-anchor="middle">Quantities</text>
<text x="1941.5" y="115.3" font-size="19.5" fill="#333" textLength="75" lengthAdjust="spacingAndGlyphs" stroke="#333" stroke-width="0.55">(1000 m</text>
<text x="2017" y="107.3" font-size="11" fill="#333" textLength="5.5" lengthAdjust="spacingAndGlyphs">3</text>
<text x="2023.5" y="115.3" font-size="19.5" fill="#333" stroke="#333" stroke-width="0.55">)</text>
<clipPath id="cp3"><rect x="250.3" y="691.6" width="693.9" height="521.3"/></clipPath>
<g clip-path="url(#cp3)">
<rect x="249.3" y="690.6" width="695.9" height="523.3" fill="#ee603b"/>
<path d="M248 1049L273.5 1022L285.2 1018.6L306.9 998.5L323.6 983.5L340.4 965.1L357.1 946L367.1 937.6L377.2 935.1L395.6 914.2L405.6 911.7L412.3 905.8L452.4 905.8L459.1 914.2L474.2 900.8L490.9 884.1L516 857.3L541.1 833.9L566.2 833.1L572.9 827.2L593 826.4L600 817.2L621.8 817.2L631.8 830.6L651.9 842.3L668.6 832.2L690.4 817.2L707.1 807.1L728.8 795.4L745.6 783.7L764 777L767.3 765.3L779 757L790.7 745.2L792.4 735.2L802.4 718.5L809.1 710.1L824.2 696.7L831 689.5L248.3 688.6Z" fill="#2e84be"/>
<path d="M248 1049L273.5 1022L285.2 1018.6L306.9 998.5L323.6 983.5L340.4 965.1L357.1 946L367.1 937.6L377.2 935.1L395.6 914.2L405.6 911.7L412.3 905.8L452.4 905.8L459.1 914.2L474.2 900.8L490.9 884.1L516 857.3L541.1 833.9L566.2 833.1L572.9 827.2L593 826.4L600 817.2L621.8 817.2L631.8 830.6L651.9 842.3L668.6 832.2L690.4 817.2L707.1 807.1L728.8 795.4L745.6 783.7L764 777L767.3 765.3L779 757L790.7 745.2L792.4 735.2L802.4 718.5L809.1 710.1L824.2 696.7L831 689.5" stroke="#b9b4a8" stroke-width="4.2" fill="none" stroke-linejoin="round"/>
<path d="M248 1049L273.5 1022L285.2 1018.6L306.9 998.5L323.6 983.5L340.4 965.1L357.1 946L367.1 937.6L377.2 935.1L395.6 914.2L405.6 911.7L412.3 905.8L452.4 905.8L459.1 914.2L474.2 900.8L490.9 884.1L516 857.3L541.1 833.9L566.2 833.1L572.9 827.2L593 826.4L600 817.2L621.8 817.2L631.8 830.6L651.9 842.3L668.6 832.2L690.4 817.2L707.1 807.1L728.8 795.4L745.6 783.7L764 777L767.3 765.3L779 757L790.7 745.2L792.4 735.2L802.4 718.5L809.1 710.1L824.2 696.7L831 689.5" stroke="#8d8f8f" stroke-width="1.2" fill="none" stroke-linejoin="round" transform="translate(0.8 1.6)"/>
<text x="326" y="985" font-size="12" fill="#1a1a2a" transform="rotate(-45 326 985)" text-anchor="middle">120</text>
<text x="522" y="853" font-size="8" fill="#22303a" transform="rotate(-45 522 853)" text-anchor="middle">120</text>
</g>
<path d="M399.8 728.5H416.4M408.1 720.2V736.8" stroke="#1a1414" stroke-width="1.4" fill="none"/>
<text x="380.5" y="766.1" font-size="25" fill="#1a1414" textLength="60.2" lengthAdjust="spacingAndGlyphs" stroke="#1a1414" stroke-width="0.55">J-175</text>
<path d="M506 768.3H522.6M514.3 760V776.6" stroke="#1a1414" stroke-width="1.4" fill="none"/>
<text x="487.6" y="801.3" font-size="25" fill="#1a1414" textLength="61.9" lengthAdjust="spacingAndGlyphs" stroke="#1a1414" stroke-width="0.55">J-120</text>
<path d="M458.4 825.2H475M466.7 816.9V833.5" stroke="#1a1414" stroke-width="1.4" fill="none"/>
<text x="446.6" y="854.8" font-size="25" fill="#1a1414" textLength="59.4" lengthAdjust="spacingAndGlyphs" stroke="#1a1414" stroke-width="0.55">J-171</text>
<path d="M327.4 850.3H344M335.7 842V858.6" stroke="#1a1414" stroke-width="1.4" fill="none"/>
<text x="313.6" y="885.8" font-size="25" fill="#1a1414" textLength="61.1" lengthAdjust="spacingAndGlyphs" stroke="#1a1414" stroke-width="0.55">J-170</text>
<path d="M300.8 860.3H317.4M309.1 852V868.6" stroke="#1a1414" stroke-width="1.4" fill="none"/>
<text x="275.1" y="907.5" font-size="25" fill="#1a1414" textLength="61.1" lengthAdjust="spacingAndGlyphs" stroke="#1a1414" stroke-width="0.55">J-158</text>
<path d="M544.2 909.5H560.8M552.5 901.2V917.8" stroke="#1a1414" stroke-width="1.4" fill="none"/>
<text x="536.9" y="954.3" font-size="25" fill="#1a1414" textLength="59.4" lengthAdjust="spacingAndGlyphs" stroke="#1a1414" stroke-width="0.55">J-169</text>
<path d="M661.7 722.7H678.3M670 714.4V731" stroke="#1a1414" stroke-width="1.4" fill="none"/>
<text x="644.4" y="761.1" font-size="25" fill="#1a1414" textLength="60.2" lengthAdjust="spacingAndGlyphs" stroke="#1a1414" stroke-width="0.55">J-172</text>
<path d="M824.6 850.3H841.2M832.9 842V858.6" stroke="#1a1414" stroke-width="1.4" fill="none"/>
<text x="807.5" y="895.8" font-size="25" fill="#1a1414" textLength="60.2" lengthAdjust="spacingAndGlyphs" stroke="#1a1414" stroke-width="0.55">J-102</text>
<path d="M759.9 879.4H776.5M768.2 871.1V887.7" stroke="#1a1414" stroke-width="1.4" fill="none"/>
<text x="749.8" y="914.2" font-size="25" fill="#1a1414" textLength="59.3" lengthAdjust="spacingAndGlyphs" stroke="#1a1414" stroke-width="0.55">J-101</text>
<path d="M876.5 886.9H893.1M884.8 878.6V895.2" stroke="#1a1414" stroke-width="1.4" fill="none"/>
<text x="866" y="924.2" font-size="25" fill="#1a1414" textLength="60.2" lengthAdjust="spacingAndGlyphs" stroke="#1a1414" stroke-width="0.55">J-174</text>
<path d="M431.1 996.9H447.7M439.4 988.6V1005.2" stroke="#1a1414" stroke-width="1.4" fill="none"/>
<text x="417.3" y="1040.4" font-size="25" fill="#1a1414" textLength="59.4" lengthAdjust="spacingAndGlyphs" stroke="#1a1414" stroke-width="0.55">J-167</text>
<path d="M571.3 1010.3H587.9M579.6 1002V1018.6" stroke="#1a1414" stroke-width="1.4" fill="none"/>
<text x="554.5" y="1046.2" font-size="25" fill="#1a1414" textLength="60.6" lengthAdjust="spacingAndGlyphs" stroke="#1a1414" stroke-width="0.55">J-166</text>
<path d="M440.8 1121.2H457.4M449.1 1112.9V1129.5" stroke="#1a1414" stroke-width="1.4" fill="none"/>
<text x="426.5" y="1156.6" font-size="25" fill="#1a1414" textLength="45.2" lengthAdjust="spacingAndGlyphs" stroke="#1a1414" stroke-width="0.55">J-25</text>
<path d="M530.3 1111H546.9M538.6 1102.7V1119.3" stroke="#1a1414" stroke-width="1.4" fill="none"/>
<text x="522.7" y="1162.5" font-size="25" fill="#1a1414" textLength="60.2" lengthAdjust="spacingAndGlyphs" stroke="#1a1414" stroke-width="0.55">J-168</text>
<path d="M437.1 1165.8H453.7M445.4 1157.5V1174.1" stroke="#1a1414" stroke-width="1.4" fill="none"/>
<text x="419" y="1201.8" font-size="25" fill="#1a1414" textLength="61" lengthAdjust="spacingAndGlyphs" stroke="#1a1414" stroke-width="0.55">J-173</text>
<path d="M723.6 1044H740.2M731.9 1035.7V1052.3" stroke="#1a1414" stroke-width="1.4" fill="none"/>
<text x="702.1" y="1084.7" font-size="25" fill="#1a1414" textLength="61" lengthAdjust="spacingAndGlyphs" stroke="#1a1414" stroke-width="0.55">J-162</text>
<path d="M679.9 1096.7H696.5M688.2 1088.4V1105" stroke="#1a1414" stroke-width="1.4" fill="none"/>
<text x="664.4" y="1139.1" font-size="25" fill="#1a1414" textLength="61.1" lengthAdjust="spacingAndGlyphs" stroke="#1a1414" stroke-width="0.55">J-149</text>
<path d="M776.1 1134H792.7M784.4 1125.7V1142.3" stroke="#1a1414" stroke-width="1.4" fill="none"/>
<text x="766.5" y="1169.2" font-size="25" fill="#1a1414" textLength="61" lengthAdjust="spacingAndGlyphs" stroke="#1a1414" stroke-width="0.55">J-148</text>
<path d="M250.9 986.8L517.7 813.8L688.7 787.1C698.1 782.6 726.5 769.5 745 760C763.5 750.5 782.9 739.9 800 730C817.1 720.1 839.7 705.8 847.6 700.9" stroke="#ff0000" stroke-width="3" fill="none" stroke-linejoin="round"/>
<path d="M250.9 986.8L359.6 1212.7" stroke="#ff0000" stroke-width="3" fill="none"/>
<path d="M399.7 890.3L420.7 876.7L428.6 888.9L407.6 902.5Z" fill="#ff0000"/>
<path d="M686.7 788.3L708.3 777.7L714.4 790.3L692.9 800.8Z" fill="#ff0000"/>
<path d="M306.8 1099.6L316.8 1120.4L329.9 1114.1L319.9 1093.3Z" fill="#ff0000"/>
<text x="770.2" y="725.2" font-size="33" fill="#f2184a" stroke="#f2184a" stroke-width="0.55" text-anchor="middle">A</text>
<text x="285.6" y="1118.2" font-size="30" fill="#ff1a10" stroke="#ff1a10" stroke-width="0.55" text-anchor="middle">B</text>
<path d="M920.4 705.1V753.6M911.6 734.1L920.4 705.1L929.2 734.1" stroke="#1a1a1a" stroke-width="1.6" fill="none"/>
<text x="920.4" y="782.9" font-size="33" fill="#111" stroke="#111" stroke-width="0.55" text-anchor="middle">N</text>
<path d="M250.3 682.6V1221.9M241.3 691.6H953.2M241.3 1212.9H953.2M944.2 682.6V1221.9M250.3 682.6V691.6M250.3 1212.9V1221.9M308.1 682.6V691.6M308.1 1212.9V1221.9M366 682.6V691.6M366 1212.9V1221.9M423.8 682.6V691.6M423.8 1212.9V1221.9M481.6 682.6V691.6M481.6 1212.9V1221.9M539.4 682.6V691.6M539.4 1212.9V1221.9M597.2 682.6V691.6M597.2 1212.9V1221.9M655.1 682.6V691.6M655.1 1212.9V1221.9M712.9 682.6V691.6M712.9 1212.9V1221.9M770.7 682.6V691.6M770.7 1212.9V1221.9M828.6 682.6V691.6M828.6 1212.9V1221.9M886.4 682.6V691.6M886.4 1212.9V1221.9M944.2 682.6V691.6M944.2 1212.9V1221.9M241.3 691.6H250.3M944.2 691.6H953.2M241.3 749.5H250.3M944.2 749.5H953.2M241.3 807.4H250.3M944.2 807.4H953.2M241.3 865.4H250.3M944.2 865.4H953.2M241.3 923.3H250.3M944.2 923.3H953.2M241.3 981.2H250.3M944.2 981.2H953.2M241.3 1039.1H250.3M944.2 1039.1H953.2M241.3 1097.1H250.3M944.2 1097.1H953.2M241.3 1155H250.3M944.2 1155H953.2M241.3 1212.9H250.3M944.2 1212.9H953.2" stroke="#6e6e62" stroke-width="1.9" fill="none"/>
<text x="235.8" y="699.3" font-size="22" fill="#3a3a3a" textLength="88" lengthAdjust="spacingAndGlyphs" stroke="#3a3a3a" stroke-width="0.55" text-anchor="end">5029200</text>
<text x="235.8" y="757.2" font-size="22" fill="#3a3a3a" textLength="88" lengthAdjust="spacingAndGlyphs" stroke="#3a3a3a" stroke-width="0.55" text-anchor="end">5029100</text>
<text x="235.8" y="815.1" font-size="22" fill="#3a3a3a" textLength="88" lengthAdjust="spacingAndGlyphs" stroke="#3a3a3a" stroke-width="0.55" text-anchor="end">5029000</text>
<text x="235.8" y="873.1" font-size="22" fill="#3a3a3a" textLength="88" lengthAdjust="spacingAndGlyphs" stroke="#3a3a3a" stroke-width="0.55" text-anchor="end">5028900</text>
<text x="235.8" y="931" font-size="22" fill="#3a3a3a" textLength="88" lengthAdjust="spacingAndGlyphs" stroke="#3a3a3a" stroke-width="0.55" text-anchor="end">5028800</text>
<text x="235.8" y="988.9" font-size="22" fill="#3a3a3a" textLength="88" lengthAdjust="spacingAndGlyphs" stroke="#3a3a3a" stroke-width="0.55" text-anchor="end">5028700</text>
<text x="235.8" y="1046.8" font-size="22" fill="#3a3a3a" textLength="88" lengthAdjust="spacingAndGlyphs" stroke="#3a3a3a" stroke-width="0.55" text-anchor="end">5028600</text>
<text x="235.8" y="1104.8" font-size="22" fill="#3a3a3a" textLength="88" lengthAdjust="spacingAndGlyphs" stroke="#3a3a3a" stroke-width="0.55" text-anchor="end">5028500</text>
<text x="235.8" y="1162.7" font-size="22" fill="#3a3a3a" textLength="88" lengthAdjust="spacingAndGlyphs" stroke="#3a3a3a" stroke-width="0.55" text-anchor="end">5028400</text>
<text x="235.8" y="1220.6" font-size="22" fill="#3a3a3a" textLength="88" lengthAdjust="spacingAndGlyphs" stroke="#3a3a3a" stroke-width="0.55" text-anchor="end">5028300</text>
<text x="250.3" y="1246.9" font-size="22" fill="#3a3a3a" textLength="89.5" lengthAdjust="spacingAndGlyphs" stroke="#3a3a3a" stroke-width="0.55" text-anchor="middle">6420200</text>
<text x="366" y="1246.9" font-size="22" fill="#3a3a3a" textLength="89.5" lengthAdjust="spacingAndGlyphs" stroke="#3a3a3a" stroke-width="0.55" text-anchor="middle">6420400</text>
<text x="481.6" y="1246.9" font-size="22" fill="#3a3a3a" textLength="89.5" lengthAdjust="spacingAndGlyphs" stroke="#3a3a3a" stroke-width="0.55" text-anchor="middle">6420600</text>
<text x="597.2" y="1246.9" font-size="22" fill="#3a3a3a" textLength="89.5" lengthAdjust="spacingAndGlyphs" stroke="#3a3a3a" stroke-width="0.55" text-anchor="middle">6420800</text>
<text x="712.9" y="1246.9" font-size="22" fill="#3a3a3a" textLength="89.5" lengthAdjust="spacingAndGlyphs" stroke="#3a3a3a" stroke-width="0.55" text-anchor="middle">6421000</text>
<text x="828.6" y="1246.9" font-size="22" fill="#3a3a3a" textLength="89.5" lengthAdjust="spacingAndGlyphs" stroke="#3a3a3a" stroke-width="0.55" text-anchor="middle">6421200</text>
<text x="944.2" y="1246.9" font-size="22" fill="#3a3a3a" textLength="89.5" lengthAdjust="spacingAndGlyphs" stroke="#3a3a3a" stroke-width="0.55" text-anchor="middle">6421400</text>
<linearGradient id="cg991_0" x1="0" y1="0" x2="0" y2="1"><stop offset="0" stop-color="#dd4330"/><stop offset="1" stop-color="#e34c35"/></linearGradient><rect x="991.5" y="742.2" width="29.3" height="38.9" fill="url(#cg991_0)"/>
<linearGradient id="cg991_1" x1="0" y1="0" x2="0" y2="1"><stop offset="0" stop-color="#e65138"/><stop offset="1" stop-color="#f06c45"/></linearGradient><rect x="991.5" y="780.8" width="29.3" height="38.9" fill="url(#cg991_1)"/>
<linearGradient id="cg991_2" x1="0" y1="0" x2="0" y2="1"><stop offset="0" stop-color="#f4794c"/><stop offset="1" stop-color="#f9985b"/></linearGradient><rect x="991.5" y="819.4" width="29.3" height="38.9" fill="url(#cg991_2)"/>
<linearGradient id="cg991_3" x1="0" y1="0" x2="0" y2="1"><stop offset="0" stop-color="#faa561"/><stop offset="1" stop-color="#fcbf75"/></linearGradient><rect x="991.5" y="858" width="29.3" height="38.9" fill="url(#cg991_3)"/>
<linearGradient id="cg991_4" x1="0" y1="0" x2="0" y2="1"><stop offset="0" stop-color="#fdca7e"/><stop offset="1" stop-color="#fee19b"/></linearGradient><rect x="991.5" y="896.6" width="29.3" height="38.9" fill="url(#cg991_4)"/>
<linearGradient id="cg991_5" x1="0" y1="0" x2="0" y2="1"><stop offset="0" stop-color="#feeaa8"/><stop offset="1" stop-color="#f8f4b3"/></linearGradient><rect x="991.5" y="935.2" width="29.3" height="38.9" fill="url(#cg991_5)"/>
<linearGradient id="cg991_6" x1="0" y1="0" x2="0" y2="1"><stop offset="0" stop-color="#f6f8b5"/><stop offset="1" stop-color="#e7f4aa"/></linearGradient><rect x="991.5" y="973.8" width="29.3" height="38.9" fill="url(#cg991_6)"/>
<linearGradient id="cg991_7" x1="0" y1="0" x2="0" y2="1"><stop offset="0" stop-color="#e0f1a3"/><stop offset="1" stop-color="#c5e7a2"/></linearGradient><rect x="991.5" y="1012.3" width="29.3" height="38.9" fill="url(#cg991_7)"/>
<linearGradient id="cg991_8" x1="0" y1="0" x2="0" y2="1"><stop offset="0" stop-color="#b8e2a3"/><stop offset="1" stop-color="#94d3a6"/></linearGradient><rect x="991.5" y="1050.9" width="29.3" height="38.9" fill="url(#cg991_8)"/>
<linearGradient id="cg991_9" x1="0" y1="0" x2="0" y2="1"><stop offset="0" stop-color="#84cda7"/><stop offset="1" stop-color="#60b6b0"/></linearGradient><rect x="991.5" y="1089.5" width="29.3" height="38.9" fill="url(#cg991_9)"/>
<linearGradient id="cg991_10" x1="0" y1="0" x2="0" y2="1"><stop offset="0" stop-color="#52abb4"/><stop offset="1" stop-color="#3b94bb"/></linearGradient><rect x="991.5" y="1128.1" width="29.3" height="38.9" fill="url(#cg991_10)"/>
<rect x="991.5" y="1166.7" width="29.3" height="38.9" fill="#2f87bf"/>
<path d="M991.5 742.2H1020.8V1205.3H991.5Z" stroke="#6a6a5a" stroke-opacity="0.7" stroke-width="1.1" fill="none"/>
<path d="M991.5 780.8H1020.8M991.5 819.4H1020.8M991.5 858H1020.8M991.5 896.6H1020.8M991.5 935.2H1020.8M991.5 973.8H1020.8M991.5 1012.3H1020.8M991.5 1050.9H1020.8M991.5 1089.5H1020.8M991.5 1128.1H1020.8M991.5 1166.7H1020.8" stroke="#3c3a22" stroke-opacity="0.72" stroke-width="2" fill="none"/>
<text x="1028.3" y="827.1" font-size="22" fill="#333" textLength="37.5" lengthAdjust="spacingAndGlyphs" stroke="#333" stroke-width="0.55">120</text>
<text x="1028.3" y="904.3" font-size="22" fill="#333" textLength="37.5" lengthAdjust="spacingAndGlyphs" stroke="#333" stroke-width="0.55">100</text>
<text x="1028.3" y="981.5" font-size="22" fill="#333" textLength="25" lengthAdjust="spacingAndGlyphs" stroke="#333" stroke-width="0.55">80</text>
<text x="1028.3" y="1058.6" font-size="22" fill="#333" textLength="25" lengthAdjust="spacingAndGlyphs" stroke="#333" stroke-width="0.55">60</text>
<text x="1028.3" y="1135.8" font-size="22" fill="#333" textLength="25" lengthAdjust="spacingAndGlyphs" stroke="#333" stroke-width="0.55">40</text>
<text x="1028.3" y="1213" font-size="22" fill="#333" textLength="25" lengthAdjust="spacingAndGlyphs" stroke="#333" stroke-width="0.55">20</text>
<text x="1027.6" y="687.9" font-size="20.5" fill="#333" textLength="129.5" lengthAdjust="spacingAndGlyphs" stroke="#333" stroke-width="0.55" text-anchor="middle">Permeability</text>
<text x="986.6" y="721.3" font-size="21" fill="#333" textLength="24" lengthAdjust="spacingAndGlyphs" stroke="#333" stroke-width="0.55">10</text>
<text x="1010.9" y="712.3" font-size="12" fill="#333" textLength="9" lengthAdjust="spacingAndGlyphs">-9</text>
<text x="1027.9" y="721.3" font-size="21" fill="#333" textLength="19" lengthAdjust="spacingAndGlyphs" stroke="#333" stroke-width="0.55">m</text>
<text x="1047.4" y="712.3" font-size="12" fill="#333">2</text>
<clipPath id="cp4"><rect x="1194.1" y="704.7" width="692.1" height="508.3"/></clipPath>
<g clip-path="url(#cp4)">
<rect x="1193.1" y="703.7" width="694.1" height="510.3" fill="#e9573a"/>
<path d="M1192 758.5L1233.4 772.6L1248.4 773.4L1262 779.5L1313.6 798.4L1331.9 799.3L1388.7 820.1L1398.7 823.5L1415.4 824.3L1485.6 850.2L1497.2 850.2L1541.8 866.3L1594.8 883L1650.5 901.1L1664.5 902L1734.2 927.6L1745.3 927.6L1817.8 952.7L1829 952.7L1888 974.3L1889.2 701.7L1191.1 701.7Z" fill="#ebf5a2"/>
<path d="M1192 758.5L1233.4 772.6L1248.4 773.4L1262 779.5L1313.6 798.4L1331.9 799.3L1388.7 820.1L1398.7 823.5L1415.4 824.3L1485.6 850.2L1497.2 850.2L1541.8 866.3L1594.8 883L1650.5 901.1L1664.5 902L1734.2 927.6L1745.3 927.6L1817.8 952.7L1829 952.7L1888 974.3" stroke="#b9c0a8" stroke-width="3.4" fill="none" transform="translate(0 1.2)"/>
<path d="M1192 758.5L1233.4 772.6L1248.4 773.4L1262 779.5L1313.6 798.4L1331.9 799.3L1388.7 820.1L1398.7 823.5L1415.4 824.3L1485.6 850.2L1497.2 850.2L1541.8 866.3L1594.8 883L1650.5 901.1L1664.5 902L1734.2 927.6L1745.3 927.6L1817.8 952.7L1829 952.7L1888 974.3" stroke="#5f7468" stroke-width="1.7" fill="none"/>
<path d="M1192 879.5L1205.8 885.4L1207.4 891.9L1219.3 896.6L1220.9 903.1L1232.8 907.7L1234.5 914.2L1246.4 918.9L1248 925.4L1259.9 930.1L1261.5 936.6L1273.4 941.3L1275 947.8L1286.9 952.5L1288.5 958.9L1300.4 963.6L1302.1 970.1L1314 974.8L1315.6 981.3L1327.5 986L1329.1 992.5L1341 997.2L1342.6 1003.6L1354.5 1008.3L1356.1 1014.8L1368 1019.5L1369.7 1026L1381.6 1030.7L1383.2 1037.2L1395.1 1041.9L1396.7 1048.3L1408.6 1053L1410.2 1059.5L1422.1 1064.2L1423.7 1070.7L1435.6 1075.4L1437.3 1081.9L1449.2 1086.6L1450.8 1093.1L1462.7 1097.8L1464.3 1104.2L1476.2 1108.9L1477.8 1115.4L1489.7 1120.1L1491.3 1126.6L1503.2 1131.3L1504.9 1137.8L1516.8 1142.5L1518.4 1148.9L1530.3 1153.6L1531.9 1160.1L1543.8 1164.8L1545.4 1171.3L1557.3 1176L1558.9 1182.5L1570.8 1187.2L1572.5 1193.6L1584.4 1198.3L1586 1204.8L1597.9 1209.5L1599.5 1216L1191.1 1216Z" fill="#2f84be"/>
<path d="M1192 879.5L1205.8 885.4L1207.4 891.9L1219.3 896.6L1220.9 903.1L1232.8 907.7L1234.5 914.2L1246.4 918.9L1248 925.4L1259.9 930.1L1261.5 936.6L1273.4 941.3L1275 947.8L1286.9 952.5L1288.5 958.9L1300.4 963.6L1302.1 970.1L1314 974.8L1315.6 981.3L1327.5 986L1329.1 992.5L1341 997.2L1342.6 1003.6L1354.5 1008.3L1356.1 1014.8L1368 1019.5L1369.7 1026L1381.6 1030.7L1383.2 1037.2L1395.1 1041.9L1396.7 1048.3L1408.6 1053L1410.2 1059.5L1422.1 1064.2L1423.7 1070.7L1435.6 1075.4L1437.3 1081.9L1449.2 1086.6L1450.8 1093.1L1462.7 1097.8L1464.3 1104.2L1476.2 1108.9L1477.8 1115.4L1489.7 1120.1L1491.3 1126.6L1503.2 1131.3L1504.9 1137.8L1516.8 1142.5L1518.4 1148.9L1530.3 1153.6L1531.9 1160.1L1543.8 1164.8L1545.4 1171.3L1557.3 1176L1558.9 1182.5L1570.8 1187.2L1572.5 1193.6L1584.4 1198.3L1586 1204.8L1597.9 1209.5L1599.5 1216" stroke="#c9d5b4" stroke-width="6.4" fill="none" transform="translate(2.6 -2.9)"/>
<path d="M1192 879.5L1205.8 885.4L1207.4 891.9L1219.3 896.6L1220.9 903.1L1232.8 907.7L1234.5 914.2L1246.4 918.9L1248 925.4L1259.9 930.1L1261.5 936.6L1273.4 941.3L1275 947.8L1286.9 952.5L1288.5 958.9L1300.4 963.6L1302.1 970.1L1314 974.8L1315.6 981.3L1327.5 986L1329.1 992.5L1341 997.2L1342.6 1003.6L1354.5 1008.3L1356.1 1014.8L1368 1019.5L1369.7 1026L1381.6 1030.7L1383.2 1037.2L1395.1 1041.9L1396.7 1048.3L1408.6 1053L1410.2 1059.5L1422.1 1064.2L1423.7 1070.7L1435.6 1075.4L1437.3 1081.9L1449.2 1086.6L1450.8 1093.1L1462.7 1097.8L1464.3 1104.2L1476.2 1108.9L1477.8 1115.4L1489.7 1120.1L1491.3 1126.6L1503.2 1131.3L1504.9 1137.8L1516.8 1142.5L1518.4 1148.9L1530.3 1153.6L1531.9 1160.1L1543.8 1164.8L1545.4 1171.3L1557.3 1176L1558.9 1182.5L1570.8 1187.2L1572.5 1193.6L1584.4 1198.3L1586 1204.8L1597.9 1209.5L1599.5 1216" stroke="#8b8f86" stroke-width="1.3" fill="none" transform="translate(6.3 -6.3)"/>
<path d="M1192 879.5L1205.8 885.4L1207.4 891.9L1219.3 896.6L1220.9 903.1L1232.8 907.7L1234.5 914.2L1246.4 918.9L1248 925.4L1259.9 930.1L1261.5 936.6L1273.4 941.3L1275 947.8L1286.9 952.5L1288.5 958.9L1300.4 963.6L1302.1 970.1L1314 974.8L1315.6 981.3L1327.5 986L1329.1 992.5L1341 997.2L1342.6 1003.6L1354.5 1008.3L1356.1 1014.8L1368 1019.5L1369.7 1026L1381.6 1030.7L1383.2 1037.2L1395.1 1041.9L1396.7 1048.3L1408.6 1053L1410.2 1059.5L1422.1 1064.2L1423.7 1070.7L1435.6 1075.4L1437.3 1081.9L1449.2 1086.6L1450.8 1093.1L1462.7 1097.8L1464.3 1104.2L1476.2 1108.9L1477.8 1115.4L1489.7 1120.1L1491.3 1126.6L1503.2 1131.3L1504.9 1137.8L1516.8 1142.5L1518.4 1148.9L1530.3 1153.6L1531.9 1160.1L1543.8 1164.8L1545.4 1171.3L1557.3 1176L1558.9 1182.5L1570.8 1187.2L1572.5 1193.6L1584.4 1198.3L1586 1204.8L1597.9 1209.5L1599.5 1216" stroke="#90a0a0" stroke-width="1.1" fill="none" transform="translate(2.6 -2.8)"/>
<g transform="rotate(21 1286 792.5)"><rect x="1260" y="783.1" width="52" height="4.7" fill="#ebf5a2"/><rect x="1260" y="787.6" width="52" height="4.5" fill="#e9573a"/><text x="1286" y="792.5" font-size="13.5" fill="#2e3428" text-anchor="middle" font-style="italic">750000</text></g>
<g transform="rotate(19 1569 880.5)"><rect x="1543" y="871.1" width="52" height="4.7" fill="#ebf5a2"/><rect x="1543" y="875.6" width="52" height="4.5" fill="#e9573a"/><text x="1569" y="880.5" font-size="13.5" fill="#2e3428" text-anchor="middle" font-style="italic">750000</text></g>
</g>
<path d="M1604.9 735.3H1620.9M1612.9 727.3V743.3" stroke="#2a2f2a" stroke-width="1.4" fill="none"/>
<text x="1593.4" y="775.7" font-size="23" fill="#0c0c0c" textLength="61.3" lengthAdjust="spacingAndGlyphs" font-weight="bold">J-172</text>
<path d="M1514.5 1016.3H1530.5M1522.5 1008.3V1024.3" stroke="#2a2f2a" stroke-width="1.4" fill="none"/>
<text x="1493.3" y="1060" font-size="23" fill="#0c0c0c" textLength="59.9" lengthAdjust="spacingAndGlyphs" font-weight="bold">J-166</text>
<path d="M1380.7 1166.9H1396.7M1388.7 1158.9V1174.9" stroke="#2a2f2a" stroke-width="1.4" fill="none"/>
<text x="1365" y="1203.9" font-size="23" fill="#0c0c0c" textLength="60" lengthAdjust="spacingAndGlyphs" font-weight="bold">J-173</text>
<path d="M1194.1 997.3L1388.7 820.3L1510 791C1517 786.8 1538.3 775.2 1552 766C1565.7 756.8 1579.5 746.2 1592 736C1604.5 725.8 1621.2 709.8 1627.1 704.6" stroke="#ff0000" stroke-width="3" fill="none" stroke-linejoin="round"/>
<path d="M1194.1 997.3L1275.8 1212.9" stroke="#ff0000" stroke-width="3" fill="none"/>
<path d="M1299.1 901.7L1313.9 888.3L1322.6 897.9L1307.9 911.3Z" fill="#ff0000"/>
<path d="M1507.8 793L1523.8 782.6L1530.8 793.5L1514.9 803.9Z" fill="#ff0000"/>
<path d="M1236.1 1108.1L1242.9 1125.9L1254.1 1121.6L1247.3 1103.9Z" fill="#ff0000"/>
<text x="1553.3" y="742.2" font-size="29" fill="#ff1a10" stroke="#ff1a10" stroke-width="0.55" text-anchor="middle">A</text>
<text x="1215.8" y="1152.4" font-size="31" fill="#ff1a10" stroke="#ff1a10" stroke-width="0.55" text-anchor="middle">B</text>
<path d="M1861.9 718.5V768.7M1853.1 747.5L1861.9 718.5L1870.7 747.5" stroke="#1a1a1a" stroke-width="1.6" fill="none"/>
<text x="1861.9" y="797.2" font-size="31" fill="#111" stroke="#111" stroke-width="0.55" text-anchor="middle">N</text>
<path d="M1194.1 695.7V1222M1185.1 704.7H1895.2M1185.1 1213H1895.2M1886.2 695.7V1222M1194.1 695.7V704.7M1194.1 1213V1222M1251.8 695.7V704.7M1251.8 1213V1222M1309.4 695.7V704.7M1309.4 1213V1222M1367.1 695.7V704.7M1367.1 1213V1222M1424.8 695.7V704.7M1424.8 1213V1222M1482.5 695.7V704.7M1482.5 1213V1222M1540.2 695.7V704.7M1540.2 1213V1222M1597.8 695.7V704.7M1597.8 1213V1222M1655.5 695.7V704.7M1655.5 1213V1222M1713.2 695.7V704.7M1713.2 1213V1222M1770.8 695.7V704.7M1770.8 1213V1222M1828.5 695.7V704.7M1828.5 1213V1222M1886.2 695.7V704.7M1886.2 1213V1222M1185.1 704.7H1194.1M1886.2 704.7H1895.2M1185.1 761.2H1194.1M1886.2 761.2H1895.2M1185.1 817.7H1194.1M1886.2 817.7H1895.2M1185.1 874.1H1194.1M1886.2 874.1H1895.2M1185.1 930.6H1194.1M1886.2 930.6H1895.2M1185.1 987.1H1194.1M1886.2 987.1H1895.2M1185.1 1043.6H1194.1M1886.2 1043.6H1895.2M1185.1 1100H1194.1M1886.2 1100H1895.2M1185.1 1156.5H1194.1M1886.2 1156.5H1895.2M1185.1 1213H1194.1M1886.2 1213H1895.2" stroke="#6e6e62" stroke-width="1.9" fill="none"/>
<text x="1182.3" y="711.7" font-size="19.5" fill="#3a3a3a" textLength="78.8" lengthAdjust="spacingAndGlyphs" stroke="#3a3a3a" stroke-width="0.55" text-anchor="end">5029200</text>
<text x="1182.3" y="768.2" font-size="19.5" fill="#3a3a3a" textLength="78.8" lengthAdjust="spacingAndGlyphs" stroke="#3a3a3a" stroke-width="0.55" text-anchor="end">5029100</text>
<text x="1182.3" y="824.7" font-size="19.5" fill="#3a3a3a" textLength="78.8" lengthAdjust="spacingAndGlyphs" stroke="#3a3a3a" stroke-width="0.55" text-anchor="end">5029000</text>
<text x="1182.3" y="881.1" font-size="19.5" fill="#3a3a3a" textLength="78.8" lengthAdjust="spacingAndGlyphs" stroke="#3a3a3a" stroke-width="0.55" text-anchor="end">5028900</text>
<text x="1182.3" y="937.6" font-size="19.5" fill="#3a3a3a" textLength="78.8" lengthAdjust="spacingAndGlyphs" stroke="#3a3a3a" stroke-width="0.55" text-anchor="end">5028800</text>
<text x="1182.3" y="994.1" font-size="19.5" fill="#3a3a3a" textLength="78.8" lengthAdjust="spacingAndGlyphs" stroke="#3a3a3a" stroke-width="0.55" text-anchor="end">5028700</text>
<text x="1182.3" y="1050.6" font-size="19.5" fill="#3a3a3a" textLength="78.8" lengthAdjust="spacingAndGlyphs" stroke="#3a3a3a" stroke-width="0.55" text-anchor="end">5028600</text>
<text x="1182.3" y="1107" font-size="19.5" fill="#3a3a3a" textLength="78.8" lengthAdjust="spacingAndGlyphs" stroke="#3a3a3a" stroke-width="0.55" text-anchor="end">5028500</text>
<text x="1182.3" y="1163.5" font-size="19.5" fill="#3a3a3a" textLength="78.8" lengthAdjust="spacingAndGlyphs" stroke="#3a3a3a" stroke-width="0.55" text-anchor="end">5028400</text>
<text x="1182.3" y="1220" font-size="19.5" fill="#3a3a3a" textLength="78.8" lengthAdjust="spacingAndGlyphs" stroke="#3a3a3a" stroke-width="0.55" text-anchor="end">5028300</text>
<text x="1194.1" y="1243.4" font-size="19.5" fill="#3a3a3a" textLength="79.1" lengthAdjust="spacingAndGlyphs" stroke="#3a3a3a" stroke-width="0.55" text-anchor="middle">6420200</text>
<text x="1309.4" y="1243.4" font-size="19.5" fill="#3a3a3a" textLength="79.1" lengthAdjust="spacingAndGlyphs" stroke="#3a3a3a" stroke-width="0.55" text-anchor="middle">6420400</text>
<text x="1424.8" y="1243.4" font-size="19.5" fill="#3a3a3a" textLength="79.1" lengthAdjust="spacingAndGlyphs" stroke="#3a3a3a" stroke-width="0.55" text-anchor="middle">6420600</text>
<text x="1540.2" y="1243.4" font-size="19.5" fill="#3a3a3a" textLength="79.1" lengthAdjust="spacingAndGlyphs" stroke="#3a3a3a" stroke-width="0.55" text-anchor="middle">6420800</text>
<text x="1655.5" y="1243.4" font-size="19.5" fill="#3a3a3a" textLength="79.1" lengthAdjust="spacingAndGlyphs" stroke="#3a3a3a" stroke-width="0.55" text-anchor="middle">6421000</text>
<text x="1770.8" y="1243.4" font-size="19.5" fill="#3a3a3a" textLength="79.1" lengthAdjust="spacingAndGlyphs" stroke="#3a3a3a" stroke-width="0.55" text-anchor="middle">6421200</text>
<text x="1886.2" y="1243.4" font-size="19.5" fill="#3a3a3a" textLength="79.1" lengthAdjust="spacingAndGlyphs" stroke="#3a3a3a" stroke-width="0.55" text-anchor="middle">6421400</text>
<rect x="1975.3" y="743" width="28.7" height="56.8" fill="#e9583a"/>
<rect x="1975.3" y="799.5" width="28.7" height="56.8" fill="#f99556"/>
<rect x="1975.3" y="856" width="28.7" height="56.8" fill="#fdce7f"/>
<rect x="1975.3" y="912.4" width="28.7" height="56.8" fill="#fef4b0"/>
<rect x="1975.3" y="968.9" width="28.7" height="56.8" fill="#ebf5a2"/>
<rect x="1975.3" y="1025.4" width="28.7" height="56.8" fill="#b6e0a2"/>
<rect x="1975.3" y="1081.8" width="28.7" height="56.8" fill="#72c7a8"/>
<rect x="1975.3" y="1138.3" width="28.7" height="56.8" fill="#3385be"/>
<path d="M1975.3 743H2004V1194.8H1975.3Z" stroke="#6a6a5a" stroke-opacity="0.7" stroke-width="1.1" fill="none"/>
<path d="M1975.3 799.5H2004M1975.3 856H2004M1975.3 912.4H2004M1975.3 968.9H2004M1975.3 1025.4H2004M1975.3 1081.8H2004M1975.3 1138.3H2004" stroke="#3c3a22" stroke-opacity="0.72" stroke-width="2" fill="none"/>
<text x="2009.6" y="806.5" font-size="20" fill="#333" textLength="34.8" lengthAdjust="spacingAndGlyphs" stroke="#333" stroke-width="0.55">950</text>
<text x="2009.6" y="863" font-size="20" fill="#333" textLength="34.8" lengthAdjust="spacingAndGlyphs" stroke="#333" stroke-width="0.55">850</text>
<text x="2009.6" y="919.4" font-size="20" fill="#333" textLength="34.8" lengthAdjust="spacingAndGlyphs" stroke="#333" stroke-width="0.55">750</text>
<text x="2009.6" y="975.9" font-size="20" fill="#333" textLength="34.8" lengthAdjust="spacingAndGlyphs" stroke="#333" stroke-width="0.55">650</text>
<text x="2009.6" y="1032.4" font-size="20" fill="#333" textLength="34.8" lengthAdjust="spacingAndGlyphs" stroke="#333" stroke-width="0.55">550</text>
<text x="2009.6" y="1088.8" font-size="20" fill="#333" textLength="34.8" lengthAdjust="spacingAndGlyphs" stroke="#333" stroke-width="0.55">450</text>
<text x="2009.6" y="1145.3" font-size="20" fill="#333" textLength="34.8" lengthAdjust="spacingAndGlyphs" stroke="#333" stroke-width="0.55">350</text>
<text x="2009.6" y="1201.8" font-size="20" fill="#333" textLength="34.8" lengthAdjust="spacingAndGlyphs" stroke="#333" stroke-width="0.55">250</text>
<text x="1998.6" y="696.2" font-size="19.5" fill="#333" textLength="94" lengthAdjust="spacingAndGlyphs" stroke="#333" stroke-width="0.55" text-anchor="middle">Quantities</text>
<text x="1954.6" y="724.1" font-size="19.5" fill="#333" textLength="75" lengthAdjust="spacingAndGlyphs" stroke="#333" stroke-width="0.55">(1000 m</text>
<text x="2030.1" y="716.1" font-size="11" fill="#333" textLength="5.5" lengthAdjust="spacingAndGlyphs">3</text>
<text x="2036.6" y="724.1" font-size="19.5" fill="#333" stroke="#333" stroke-width="0.55">)</text>
<clipPath id="cp5"><path d="M408.1 1345.2L636.8 1345.2L641.9 1339.3L663.6 1338.8L670 1336L677 1345.2L690.4 1358.6L707.1 1368.6L720.5 1382L735.5 1393.7L750.6 1408.7L770.7 1420.5L790.7 1437.2L807.5 1445.5L820.8 1458.9L831.7 1464L851 1479L864.3 1490.7L872.7 1497.4L872.7 1510.8L861 1529.2L857.6 1545.9L852.6 1559.3L850.5 1580L837.6 1611.9L824.2 1643.7L810.8 1672.1L795.8 1705.6L782.4 1732.3L780.7 1745L720.5 1745L712.1 1752L642 1752L637 1762L492 1762L490 1770.5L446 1770.5L432.4 1735.7L415.7 1698.9L398.9 1662.1L382.2 1625.3L368.8 1593.5L363.8 1583L357.1 1571L350.4 1556L348.7 1542.6L347.1 1529.2L338.7 1519.2L333.7 1504.1L323.6 1492.4L319.5 1479L320.3 1469L327 1462.3L328.7 1453.9L347.1 1437.2L348.7 1428.8L365.5 1412.1L368.8 1402.1L378.8 1392L390.6 1375.3L405.6 1358.6Z"/></clipPath>
<g clip-path="url(#cp5)">
<rect x="300" y="1320" width="600" height="470" fill="#2f85be"/>
<path d="M318 1468C321.7 1465.9 333.9 1459.3 340.4 1455.6C346.9 1451.9 350.1 1448.9 357.1 1445.6C364.1 1442.2 373.8 1438 382.2 1435.5C390.6 1433 398.9 1431.3 407.3 1430.5C415.7 1429.7 424.6 1430 432.4 1430.5C440.2 1431 448.8 1432.7 454.1 1433.8C459.4 1434.9 461.4 1438 464.2 1437.2C467 1436.4 468.6 1433 470.8 1428.8C473 1424.6 474.1 1417.7 477.5 1412.1C480.9 1406.5 485.9 1401 490.9 1395.4C495.9 1389.8 502 1383.6 507.6 1378.6C513.2 1373.6 517.4 1369.5 524.4 1365.3C531.4 1361.1 541.1 1356.6 549.5 1353.5C557.9 1350.4 567.9 1348.7 574.6 1346.9C581.4 1345.2 584.9 1344.8 590 1343C595.1 1341.2 602.5 1337.2 605 1336L1000 1300L1000 1900L200 1900L200 1468Z" fill="#4aa0b8" stroke="#e8f0e0" stroke-opacity="0.35" stroke-width="1"/>
<path d="M305 1466C307.6 1467 314.4 1470.4 320.3 1472.3C326.2 1474.2 331.5 1477.3 340.4 1477.3C349.3 1477.3 362.6 1474.5 373.8 1472.3C385 1470.1 397.5 1466.2 407.3 1464C417.1 1461.8 424 1460 432.4 1458.9C440.8 1457.8 450.5 1458.7 457.5 1457.3C464.5 1455.9 469.2 1453.9 474.2 1450.6C479.2 1447.2 483.1 1442 487.6 1437.2C492.1 1432.5 494.9 1426.8 501 1422.1C507.1 1417.4 516.3 1412.7 524.4 1408.8C532.5 1404.9 541.1 1401.8 549.5 1398.7C557.9 1395.6 567.9 1393.2 574.6 1390.4C581.4 1387.6 583.2 1384.8 590 1382C596.8 1379.2 606.7 1376.4 615.1 1373.6C623.5 1370.8 631.8 1368.1 640.2 1365.3C648.6 1362.5 658.6 1359.4 665.3 1356.9C672 1354.4 673.7 1353.4 680.3 1350.2C686.9 1347 700.9 1340 705 1338L1000 1300L1000 1900L200 1900L200 1466Z" fill="#7bc9a8" stroke="#e8f0e0" stroke-opacity="0.35" stroke-width="1"/>
<path d="M315 1506C318.1 1505.4 326.7 1503.8 333.7 1502.4C340.7 1501 349 1499.9 357.1 1497.4C365.2 1494.9 373.8 1490.8 382.2 1487.4C390.6 1484.1 398.9 1480.1 407.3 1477.3C415.7 1474.5 424 1472.3 432.4 1470.6C440.8 1468.9 450 1469 457.5 1467.3C465 1465.6 471.4 1463.9 477.5 1460.6C483.6 1457.2 489.3 1451.7 494.3 1447.2C499.3 1442.7 502.6 1437.7 507.6 1433.8C512.6 1429.9 517.4 1426.9 524.4 1423.8C531.4 1420.7 541.1 1417.9 549.5 1415.4C557.9 1412.9 567.9 1411 574.6 1408.8C581.4 1406.6 581.9 1404.9 590 1402.1C598.1 1399.3 612.4 1395.6 623.5 1392C634.6 1388.4 647.1 1383.9 656.9 1380.3C666.6 1376.7 674.2 1372.8 682 1370.3C689.8 1367.8 695.7 1367.8 703.7 1365.3C711.7 1362.8 725.6 1356.7 730 1355L1000 1300L1000 1900L200 1900L200 1506Z" fill="#aadba5" stroke="#e8f0e0" stroke-opacity="0.35" stroke-width="1"/>
<path d="M325 1527C327.6 1525.7 336.4 1521.9 340.4 1519.2C344.3 1516.5 343.1 1513.6 348.7 1510.8C354.3 1508 365.4 1505.2 373.8 1502.4C382.2 1499.6 390.5 1496.9 398.9 1494.1C407.3 1491.3 415.6 1488.2 424 1485.7C432.4 1483.2 440.7 1481.2 449.1 1479C457.5 1476.8 467.2 1475.4 474.2 1472.3C481.2 1469.2 485.3 1465 490.9 1460.6C496.5 1456.1 502 1450.1 507.6 1445.6C513.2 1441.1 517.4 1437.1 524.4 1433.8C531.4 1430.5 541.1 1427.9 549.5 1425.5C557.9 1423.1 567.9 1421.4 574.6 1419.6C581.4 1417.8 581.9 1416.4 590 1414.6C598.1 1412.8 612.4 1410.8 623.5 1408.8C634.6 1406.8 646.9 1404.9 656.9 1402.9C666.9 1400.9 675.3 1399.4 683.7 1397C692.1 1394.6 700.4 1390.9 707.1 1388.7C713.8 1386.5 716.6 1386.3 723.8 1383.7C730.9 1381.1 745.6 1374.8 750 1373L1000 1300L1000 1900L200 1900L200 1527Z" fill="#dcef9f" stroke="#e8f0e0" stroke-opacity="0.35" stroke-width="1"/>
<path d="M366 1600C366.6 1593.9 368.2 1572.8 369.3 1563.6C370.4 1554.4 370.5 1550.3 372.5 1545C374.5 1539.7 375.7 1536 381.4 1532C387.1 1528 396.1 1525.1 406.5 1520.9C416.9 1516.7 431.2 1512.3 443.6 1506.9C456 1501.5 470.7 1494.5 480.8 1488.3C490.9 1482.1 497.1 1475.9 504.1 1469.7C511.1 1463.5 514.1 1456.2 522.6 1451.2C531.1 1446.2 542.4 1444 555.2 1440C568.1 1436 585.5 1431.2 599.7 1427.2C613.9 1423.2 625.1 1419.8 640.2 1416.3C655.3 1412.8 677.6 1409 690.4 1406.2C703.2 1403.4 709.4 1401.5 717.1 1399.6C724.8 1397.6 729.2 1397.3 736.4 1394.5C743.5 1391.7 756.1 1384.9 760 1383L1000 1300L1000 1900L366 1900Z" fill="#f3f8b1" stroke="#6b6b3a" stroke-opacity="0.3" stroke-width="1"/>
<path d="M379.5 1610C380.2 1603.7 382.6 1581.2 383.9 1571.9C385.1 1562.7 385.1 1559.4 387.1 1554.5C389.2 1549.6 390.7 1546.4 396 1542.8C401.4 1539.1 409.9 1536.4 419.4 1532.4C428.9 1528.5 441.7 1524.1 453 1518.9C464.2 1513.7 477.5 1507.2 486.9 1501.2C496.2 1495.2 502.3 1488.9 509.1 1482.8C515.8 1476.7 519.2 1469.3 527.2 1464.7C535.3 1460.1 545.6 1458.2 557.7 1455.2C569.7 1452.3 585.6 1449.9 599.8 1447.2C613.9 1444.4 627.2 1441.8 642.7 1439C658.1 1436.1 679 1433.4 692.6 1430.2C706.3 1427 714.1 1423.8 724.3 1419.9C734.5 1416.1 744.5 1411.7 753.8 1407.2C763 1402.8 775.6 1395.8 780 1393.5L1000 1300L1000 1900L379.5 1900Z" fill="#fdf0a7" stroke="#6b6b3a" stroke-opacity="0.3" stroke-width="1"/>
<path d="M390.3 1618C391.2 1611.4 394.1 1587.9 395.5 1578.6C396.9 1569.3 396.8 1566.6 398.8 1562.1C400.9 1557.6 402.6 1554.8 407.8 1551.3C412.9 1547.9 420.9 1545.4 429.7 1541.6C438.5 1537.8 450.1 1533.6 460.4 1528.5C470.8 1523.5 482.9 1517.5 491.7 1511.6C500.5 1505.7 506.5 1499.3 513.1 1493.2C519.6 1487.2 523.2 1479.8 531 1475.5C538.7 1471.2 548.1 1469.5 559.6 1467.5C571.1 1465.4 585.7 1464.8 599.8 1463.1C614 1461.4 628.8 1459.4 644.6 1457.1C660.4 1454.8 680.2 1452.9 694.4 1449.4C708.7 1445.9 717.9 1441.5 730.1 1436.2C742.3 1430.9 756.6 1423.2 767.6 1417.5C778.6 1411.7 791.3 1404.5 796 1401.9L1000 1300L1000 1900L390.3 1900Z" fill="#fdd585" stroke="#6b6b3a" stroke-opacity="0.3" stroke-width="1"/>
<path d="M402.7 1627.2C403.7 1620.4 407.3 1595.7 408.9 1586.3C410.5 1576.9 410.2 1575 412.3 1570.8C414.3 1566.7 416.4 1564.3 421.2 1561.2C426.1 1558.1 433.6 1555.9 441.5 1552.2C449.5 1548.6 459.7 1544.4 469 1539.6C478.3 1534.8 489.2 1529.2 497.3 1523.5C505.4 1517.7 511.3 1511.2 517.6 1505.3C524 1499.3 527.9 1491.8 535.2 1487.9C542.6 1483.9 551.1 1482.5 561.9 1481.5C572.6 1480.4 585.7 1482 599.9 1481.5C614.1 1480.9 630.8 1479.6 646.9 1478C663 1476.3 681.5 1475.3 696.5 1471.5C711.5 1467.6 722.2 1461.9 736.7 1454.9C751.2 1447.8 770.6 1436.4 783.6 1429.2C796.5 1422 809.3 1414.5 814.4 1411.6L1000 1300L1000 1900L402.7 1900Z" fill="#fbad64" stroke="#6b6b3a" stroke-opacity="0.3" stroke-width="1"/>
<path d="M420 1640C421.2 1632.8 425.7 1606.5 427.5 1597C429.3 1587.5 428.9 1586.7 431 1583C433.1 1579.3 435.5 1577.7 440 1575C444.5 1572.3 451.2 1570.3 458 1567C464.8 1563.7 473.2 1559.5 481 1555C488.8 1550.5 497.8 1545.5 505 1540C512.2 1534.5 518 1527.8 524 1522C530 1516.2 534.4 1508.6 541.2 1505.1C548 1501.6 555.2 1500.7 565 1501C574.8 1501.3 585.8 1506 600 1507C614.2 1508 633.4 1507.8 650 1507C666.6 1506.2 683.4 1506.5 699.4 1502.2C715.4 1497.9 728.2 1490.4 745.9 1480.9C763.6 1471.5 790.1 1454.8 805.8 1445.5C821.5 1436.2 834.3 1428.4 840 1425L1000 1300L1000 1900L420 1900Z" fill="#f57e4a" stroke="#6b6b3a" stroke-opacity="0.3" stroke-width="1"/>
<path d="M449.5 1800C449.4 1789.3 449.3 1748.7 449.1 1735.7C448.9 1722.8 448.3 1725.9 448.3 1722.3C448.3 1718.7 449.1 1719.5 449.1 1713.9C449.1 1708.3 448.9 1698.5 448.3 1688.8C447.8 1679 447.1 1666.6 445.8 1655.4C444.5 1644.2 441.8 1629.4 440.7 1621.9C439.6 1614.4 439.4 1612.2 439.1 1610.2C440.8 1609.4 443.2 1606.6 449.1 1605.2C455 1603.8 465.8 1604 474.2 1601.8C482.6 1599.6 492.3 1595.9 499.3 1591.8C506.3 1587.7 511.3 1581.7 516 1577C520.7 1572.3 524.4 1567.9 527.7 1563.4C531 1558.9 533.5 1554.4 536 1550C538.5 1545.6 540.3 1541.6 543 1537C545.7 1532.4 550.5 1524.9 552 1522.5C553 1522.8 554 1522.5 557.8 1524.2C561.6 1525.9 569 1529.4 574.6 1532.5C580.2 1535.6 585.9 1540.4 591.3 1542.6C596.6 1544.8 601.3 1544.5 606.7 1545.9C612.1 1547.3 616.5 1549.6 623.5 1550.9C630.5 1552.2 640.1 1553.5 648.5 1553.5C656.9 1553.5 665.2 1552.7 673.6 1550.9C682 1549.1 690.9 1546.2 698.7 1542.6C706.5 1539 714.1 1533.7 720.5 1529.2C726.9 1524.7 732.2 1520.3 737.2 1515.8C742.2 1511.3 746.1 1506.3 750.6 1502.4C755.1 1498.5 761.1 1494.5 764 1492.4C766.9 1490.3 765.1 1491.3 768.2 1489.9C771.3 1488.5 777.2 1486.1 782.4 1484C787.5 1481.9 793.5 1479.8 799.1 1477.3C804.7 1474.8 810.5 1471.2 815.8 1469C821.1 1466.8 824.4 1466.8 830.9 1464C837.4 1461.2 851 1454 855 1452L1000 1400L1000 1900L449 1900Z" fill="#e5553a"/>
<path d="M449.5 1800C449.4 1789.3 449.3 1748.7 449.1 1735.7C448.9 1722.8 448.3 1725.9 448.3 1722.3C448.3 1718.7 449.1 1719.5 449.1 1713.9C449.1 1708.3 448.9 1698.5 448.3 1688.8C447.8 1679 447.1 1666.6 445.8 1655.4C444.5 1644.2 441.8 1629.4 440.7 1621.9C439.6 1614.4 439.4 1612.2 439.1 1610.2C440.8 1609.4 443.2 1606.6 449.1 1605.2C455 1603.8 465.8 1604 474.2 1601.8C482.6 1599.6 492.3 1595.9 499.3 1591.8C506.3 1587.7 511.3 1581.7 516 1577C520.7 1572.3 524.4 1567.9 527.7 1563.4C531 1558.9 533.5 1554.4 536 1550C538.5 1545.6 540.3 1541.6 543 1537C545.7 1532.4 550.5 1524.9 552 1522.5C553 1522.8 554 1522.5 557.8 1524.2C561.6 1525.9 569 1529.4 574.6 1532.5C580.2 1535.6 585.9 1540.4 591.3 1542.6C596.6 1544.8 601.3 1544.5 606.7 1545.9C612.1 1547.3 616.5 1549.6 623.5 1550.9C630.5 1552.2 640.1 1553.5 648.5 1553.5C656.9 1553.5 665.2 1552.7 673.6 1550.9C682 1549.1 690.9 1546.2 698.7 1542.6C706.5 1539 714.1 1533.7 720.5 1529.2C726.9 1524.7 732.2 1520.3 737.2 1515.8C742.2 1511.3 746.1 1506.3 750.6 1502.4C755.1 1498.5 761.1 1494.5 764 1492.4C766.9 1490.3 765.1 1491.3 768.2 1489.9C771.3 1488.5 777.2 1486.1 782.4 1484C787.5 1481.9 793.5 1479.8 799.1 1477.3C804.7 1474.8 810.5 1471.2 815.8 1469C821.1 1466.8 824.4 1466.8 830.9 1464C837.4 1461.2 851 1454 855 1452" stroke="#5b3a1c" stroke-width="1.4" fill="none"/>
<path d="M366 1600C366.6 1593.9 368.2 1572.8 369.3 1563.6C370.4 1554.4 370.5 1550.3 372.5 1545C374.5 1539.7 375.7 1536 381.4 1532C387.1 1528 396.1 1525.1 406.5 1520.9C416.9 1516.7 431.2 1512.3 443.6 1506.9C456 1501.5 470.7 1494.5 480.8 1488.3C490.9 1482.1 497.1 1475.9 504.1 1469.7C511.1 1463.5 514.1 1456.2 522.6 1451.2C531.1 1446.2 542.4 1444 555.2 1440C568.1 1436 585.5 1431.2 599.7 1427.2C613.9 1423.2 625.1 1419.8 640.2 1416.3C655.3 1412.8 677.6 1409 690.4 1406.2C703.2 1403.4 709.4 1401.5 717.1 1399.6C724.8 1397.6 729.2 1397.3 736.4 1394.5C743.5 1391.7 756.1 1384.9 760 1383" stroke="#55703a" stroke-width="1.6" fill="none"/>
<g transform="rotate(-14 571 1440.5)"><rect x="560.5" y="1431.8" width="21" height="4.2" fill="#dcef9f"/><rect x="560.5" y="1435.8" width="21" height="4" fill="#f3f8b1"/><text x="571" y="1440.5" font-size="13" fill="#4a5a28" text-anchor="middle">70</text></g>
<g transform="rotate(-82 372.3 1578)"><rect x="361.8" y="1569.3" width="21" height="4.2" fill="#dcef9f"/><rect x="361.8" y="1573.3" width="21" height="4" fill="#f3f8b1"/><text x="372.3" y="1578" font-size="13" fill="#4a5a28" text-anchor="middle">70</text></g>
<g transform="rotate(33 575 1536.5)"><rect x="562.5" y="1528" width="25" height="4.2" fill="#f57e4a"/><rect x="562.5" y="1532" width="25" height="4" fill="#e5553a"/><text x="575" y="1536.5" font-size="12.5" fill="#4a2410" text-anchor="middle">120</text></g>
</g>
<text x="452.5" y="1729" font-size="10" fill="#3a2010" transform="rotate(-90 452.5 1729)" text-anchor="middle">120</text>
<path d="M399.8 1341.8H416.4M408.1 1333.5V1350.1" stroke="#171717" stroke-width="1.4" fill="none"/>
<text x="374.7" y="1373.6" font-size="25" fill="#171717" textLength="60.2" lengthAdjust="spacingAndGlyphs" stroke="#171717" stroke-width="0.55">J-175</text>
<path d="M506 1381.1H522.6M514.3 1372.8V1389.4" stroke="#171717" stroke-width="1.4" fill="none"/>
<text x="482.6" y="1409.6" font-size="25" fill="#171717" textLength="60.2" lengthAdjust="spacingAndGlyphs" stroke="#171717" stroke-width="0.55">J-120</text>
<path d="M456.7 1438.5H473.3M465 1430.2V1446.8" stroke="#171717" stroke-width="1.4" fill="none"/>
<text x="440.7" y="1462.3" font-size="25" fill="#171717" textLength="59.4" lengthAdjust="spacingAndGlyphs" stroke="#171717" stroke-width="0.55">J-171</text>
<path d="M327.4 1463.1H344M335.7 1454.8V1471.4" stroke="#171717" stroke-width="1.4" fill="none"/>
<text x="309.4" y="1494.1" font-size="25" fill="#171717" textLength="60.2" lengthAdjust="spacingAndGlyphs" stroke="#171717" stroke-width="0.55">J-170</text>
<path d="M300.8 1473.2H317.4M309.1 1464.9V1481.5" stroke="#171717" stroke-width="1.4" fill="none"/>
<text x="269.3" y="1515.8" font-size="25" fill="#171717" textLength="61" lengthAdjust="spacingAndGlyphs" stroke="#171717" stroke-width="0.55">J-158</text>
<path d="M543.7 1522.5H560.3M552 1514.2V1530.8" stroke="#171717" stroke-width="1.4" fill="none"/>
<text x="531.9" y="1562.6" font-size="25" fill="#171717" textLength="60.2" lengthAdjust="spacingAndGlyphs" stroke="#171717" stroke-width="0.55">J-169</text>
<path d="M661.7 1336H678.3M670 1327.7V1344.3" stroke="#171717" stroke-width="1.4" fill="none"/>
<text x="638.5" y="1368.6" font-size="25" fill="#171717" textLength="60.2" lengthAdjust="spacingAndGlyphs" stroke="#171717" stroke-width="0.55">J-172</text>
<path d="M823.4 1464H840M831.7 1455.7V1472.3" stroke="#171717" stroke-width="1.4" fill="none"/>
<text x="802.4" y="1503.3" font-size="25" fill="#171717" textLength="60.3" lengthAdjust="spacingAndGlyphs" stroke="#171717" stroke-width="0.55">J-102</text>
<path d="M759.9 1489.9H776.5M768.2 1481.6V1498.2" stroke="#171717" stroke-width="1.4" fill="none"/>
<text x="743.9" y="1521.7" font-size="25" fill="#171717" textLength="59.4" lengthAdjust="spacingAndGlyphs" stroke="#171717" stroke-width="0.55">J-101</text>
<path d="M876.4 1500.4H893M884.7 1492.1V1508.7" stroke="#171717" stroke-width="1.4" fill="none"/>
<text x="859.3" y="1531.7" font-size="25" fill="#171717" textLength="61.1" lengthAdjust="spacingAndGlyphs" stroke="#171717" stroke-width="0.55">J-174</text>
<path d="M430.8 1609.9H447.4M439.1 1601.6V1618.2" stroke="#171717" stroke-width="1.4" fill="none"/>
<text x="412.3" y="1647.8" font-size="25" fill="#171717" textLength="59.4" lengthAdjust="spacingAndGlyphs" stroke="#171717" stroke-width="0.55">J-167</text>
<path d="M571.3 1623.6H587.9M579.6 1615.3V1631.9" stroke="#171717" stroke-width="1.4" fill="none"/>
<text x="549.5" y="1656.5" font-size="25" fill="#171717" textLength="60" lengthAdjust="spacingAndGlyphs" stroke="#171717" stroke-width="0.55">J-166</text>
<path d="M440.8 1735.7H457.4M449.1 1727.4V1744" stroke="#171717" stroke-width="1.4" fill="none"/>
<text x="420.7" y="1764.1" font-size="25" fill="#171717" textLength="46" lengthAdjust="spacingAndGlyphs" stroke="#171717" stroke-width="0.55">J-25</text>
<path d="M529.5 1725.6H546.1M537.8 1717.3V1733.9" stroke="#171717" stroke-width="1.4" fill="none"/>
<text x="516.8" y="1771.6" font-size="25" fill="#171717" textLength="61.1" lengthAdjust="spacingAndGlyphs" stroke="#171717" stroke-width="0.55">J-168</text>
<path d="M437.1 1780H453.7M445.4 1771.7V1788.3" stroke="#171717" stroke-width="1.4" fill="none"/>
<text x="414" y="1810.1" font-size="25" fill="#171717" textLength="61" lengthAdjust="spacingAndGlyphs" stroke="#171717" stroke-width="0.55">J-173</text>
<path d="M723.6 1657.9H740.2M731.9 1649.6V1666.2" stroke="#171717" stroke-width="1.4" fill="none"/>
<text x="697.1" y="1693" font-size="25" fill="#171717" textLength="60.2" lengthAdjust="spacingAndGlyphs" stroke="#171717" stroke-width="0.55">J-162</text>
<path d="M679.9 1710.9H696.5M688.2 1702.6V1719.2" stroke="#171717" stroke-width="1.4" fill="none"/>
<text x="659.4" y="1745.7" font-size="25" fill="#171717" textLength="60.2" lengthAdjust="spacingAndGlyphs" stroke="#171717" stroke-width="0.55">J-149</text>
<path d="M776.2 1748.2H792.8M784.5 1739.9V1756.5" stroke="#171717" stroke-width="1.4" fill="none"/>
<text x="762.3" y="1777.5" font-size="25" fill="#171717" textLength="60.2" lengthAdjust="spacingAndGlyphs" stroke="#171717" stroke-width="0.55">J-148</text>
<path d="M250.9 1596L517.7 1424.6L688.7 1397C698.1 1392.7 726.8 1380.3 745 1371C763.2 1361.7 781 1351 798 1341C815 1331 838.7 1315.9 846.8 1310.9" stroke="#ff0000" stroke-width="3.8" fill="none" stroke-linejoin="round"/>
<path d="M250.9 1596L363.8 1827.7" stroke="#ff0000" stroke-width="3.8" fill="none"/>
<path d="M398.7 1501.1L419.7 1487.5L427.6 1499.7L406.5 1513.3Z" fill="#ff0000"/>
<path d="M684.7 1399L706.1 1388.2L712.4 1400.6L691.1 1411.5Z" fill="#ff0000"/>
<path d="M309.3 1715.2L319.3 1735.8L332.4 1729.5L322.3 1708.8Z" fill="#ff0000"/>
<text x="751" y="1351" font-size="33" fill="#f2142a" stroke="#f2142a" stroke-width="0.55" text-anchor="middle">A</text>
<text x="284.8" y="1739.8" font-size="30" fill="#f2142a" stroke="#f2142a" stroke-width="0.55" text-anchor="middle">B</text>
<path d="M910.8 1320.1V1369.4M902 1349.1L910.8 1320.1L919.6 1349.1" stroke="#1a1a1a" stroke-width="1.6" fill="none"/>
<text x="910.8" y="1398.7" font-size="33" fill="#111" stroke="#111" stroke-width="0.55" text-anchor="middle">N</text>
<path d="M250.4 1296V1836.5M241.4 1305H952.7M241.4 1827.5H952.7M943.7 1296V1836.5M250.4 1296V1305M250.4 1827.5V1836.5M308.2 1296V1305M308.2 1827.5V1836.5M366 1296V1305M366 1827.5V1836.5M423.7 1296V1305M423.7 1827.5V1836.5M481.5 1296V1305M481.5 1827.5V1836.5M539.3 1296V1305M539.3 1827.5V1836.5M597.1 1296V1305M597.1 1827.5V1836.5M654.8 1296V1305M654.8 1827.5V1836.5M712.6 1296V1305M712.6 1827.5V1836.5M770.4 1296V1305M770.4 1827.5V1836.5M828.1 1296V1305M828.1 1827.5V1836.5M885.9 1296V1305M885.9 1827.5V1836.5M943.7 1296V1305M943.7 1827.5V1836.5M241.4 1305H250.4M943.7 1305H952.7M241.4 1363.1H250.4M943.7 1363.1H952.7M241.4 1421.1H250.4M943.7 1421.1H952.7M241.4 1479.2H250.4M943.7 1479.2H952.7M241.4 1537.2H250.4M943.7 1537.2H952.7M241.4 1595.3H250.4M943.7 1595.3H952.7M241.4 1653.3H250.4M943.7 1653.3H952.7M241.4 1711.4H250.4M943.7 1711.4H952.7M241.4 1769.4H250.4M943.7 1769.4H952.7M241.4 1827.5H250.4M943.7 1827.5H952.7" stroke="#6a6a6a" stroke-width="1.9" fill="none"/>
<text x="235.9" y="1312.7" font-size="22" fill="#3a3a3a" textLength="88" lengthAdjust="spacingAndGlyphs" stroke="#3a3a3a" stroke-width="0.55" text-anchor="end">5029200</text>
<text x="235.9" y="1370.8" font-size="22" fill="#3a3a3a" textLength="88" lengthAdjust="spacingAndGlyphs" stroke="#3a3a3a" stroke-width="0.55" text-anchor="end">5029100</text>
<text x="235.9" y="1428.8" font-size="22" fill="#3a3a3a" textLength="88" lengthAdjust="spacingAndGlyphs" stroke="#3a3a3a" stroke-width="0.55" text-anchor="end">5029000</text>
<text x="235.9" y="1486.9" font-size="22" fill="#3a3a3a" textLength="88" lengthAdjust="spacingAndGlyphs" stroke="#3a3a3a" stroke-width="0.55" text-anchor="end">5028900</text>
<text x="235.9" y="1544.9" font-size="22" fill="#3a3a3a" textLength="88" lengthAdjust="spacingAndGlyphs" stroke="#3a3a3a" stroke-width="0.55" text-anchor="end">5028800</text>
<text x="235.9" y="1603" font-size="22" fill="#3a3a3a" textLength="88" lengthAdjust="spacingAndGlyphs" stroke="#3a3a3a" stroke-width="0.55" text-anchor="end">5028700</text>
<text x="235.9" y="1661" font-size="22" fill="#3a3a3a" textLength="88" lengthAdjust="spacingAndGlyphs" stroke="#3a3a3a" stroke-width="0.55" text-anchor="end">5028600</text>
<text x="235.9" y="1719.1" font-size="22" fill="#3a3a3a" textLength="88" lengthAdjust="spacingAndGlyphs" stroke="#3a3a3a" stroke-width="0.55" text-anchor="end">5028500</text>
<text x="235.9" y="1777.1" font-size="22" fill="#3a3a3a" textLength="88" lengthAdjust="spacingAndGlyphs" stroke="#3a3a3a" stroke-width="0.55" text-anchor="end">5028400</text>
<text x="235.9" y="1835.2" font-size="22" fill="#3a3a3a" textLength="88" lengthAdjust="spacingAndGlyphs" stroke="#3a3a3a" stroke-width="0.55" text-anchor="end">5028300</text>
<text x="250.4" y="1861.5" font-size="22" fill="#3a3a3a" textLength="89.5" lengthAdjust="spacingAndGlyphs" stroke="#3a3a3a" stroke-width="0.55" text-anchor="middle">6420200</text>
<text x="366" y="1861.5" font-size="22" fill="#3a3a3a" textLength="89.5" lengthAdjust="spacingAndGlyphs" stroke="#3a3a3a" stroke-width="0.55" text-anchor="middle">6420400</text>
<text x="481.5" y="1861.5" font-size="22" fill="#3a3a3a" textLength="89.5" lengthAdjust="spacingAndGlyphs" stroke="#3a3a3a" stroke-width="0.55" text-anchor="middle">6420600</text>
<text x="597.1" y="1861.5" font-size="22" fill="#3a3a3a" textLength="89.5" lengthAdjust="spacingAndGlyphs" stroke="#3a3a3a" stroke-width="0.55" text-anchor="middle">6420800</text>
<text x="712.6" y="1861.5" font-size="22" fill="#3a3a3a" textLength="89.5" lengthAdjust="spacingAndGlyphs" stroke="#3a3a3a" stroke-width="0.55" text-anchor="middle">6421000</text>
<text x="828.1" y="1861.5" font-size="22" fill="#3a3a3a" textLength="89.5" lengthAdjust="spacingAndGlyphs" stroke="#3a3a3a" stroke-width="0.55" text-anchor="middle">6421200</text>
<text x="943.7" y="1861.5" font-size="22" fill="#3a3a3a" textLength="89.5" lengthAdjust="spacingAndGlyphs" stroke="#3a3a3a" stroke-width="0.55" text-anchor="middle">6421400</text>
<rect x="975.9" y="1361.3" width="28.7" height="38.9" fill="#dd4330"/>
<rect x="975.9" y="1399.9" width="28.7" height="38.9" fill="#e85439"/>
<rect x="975.9" y="1438.6" width="28.7" height="38.9" fill="#f6804f"/>
<rect x="975.9" y="1477.2" width="28.7" height="38.9" fill="#fbab64"/>
<rect x="975.9" y="1515.9" width="28.7" height="38.9" fill="#fdd083"/>
<rect x="975.9" y="1554.5" width="28.7" height="38.9" fill="#feefaf"/>
<rect x="975.9" y="1593.2" width="28.7" height="38.9" fill="#f4f9b6"/>
<rect x="975.9" y="1631.8" width="28.7" height="38.9" fill="#ddf0a0"/>
<rect x="975.9" y="1670.4" width="28.7" height="38.9" fill="#b1dfa3"/>
<rect x="975.9" y="1709.1" width="28.7" height="38.9" fill="#7ccaa8"/>
<rect x="975.9" y="1747.7" width="28.7" height="38.9" fill="#4aa5b6"/>
<rect x="975.9" y="1786.4" width="28.7" height="38.9" fill="#2f87bf"/>
<path d="M975.9 1361.3H1004.6V1825H975.9Z" stroke="#6a6a5a" stroke-opacity="0.7" stroke-width="1.1" fill="none"/>
<path d="M975.9 1399.9H1004.6M975.9 1438.6H1004.6M975.9 1477.2H1004.6M975.9 1515.9H1004.6M975.9 1554.5H1004.6M975.9 1593.2H1004.6M975.9 1631.8H1004.6M975.9 1670.4H1004.6M975.9 1709.1H1004.6M975.9 1747.7H1004.6M975.9 1786.4H1004.6" stroke="#3c3a22" stroke-opacity="0.72" stroke-width="2" fill="none"/>
<text x="1011.6" y="1446.3" font-size="22" fill="#333" textLength="37.5" lengthAdjust="spacingAndGlyphs" stroke="#333" stroke-width="0.55">120</text>
<text x="1011.6" y="1523.6" font-size="22" fill="#333" textLength="37.5" lengthAdjust="spacingAndGlyphs" stroke="#333" stroke-width="0.55">100</text>
<text x="1011.6" y="1600.9" font-size="22" fill="#333" textLength="25" lengthAdjust="spacingAndGlyphs" stroke="#333" stroke-width="0.55">80</text>
<text x="1011.6" y="1678.1" font-size="22" fill="#333" textLength="25" lengthAdjust="spacingAndGlyphs" stroke="#333" stroke-width="0.55">60</text>
<text x="1011.6" y="1755.4" font-size="22" fill="#333" textLength="25" lengthAdjust="spacingAndGlyphs" stroke="#333" stroke-width="0.55">40</text>
<text x="1011.6" y="1832.7" font-size="22" fill="#333" textLength="25" lengthAdjust="spacingAndGlyphs" stroke="#333" stroke-width="0.55">20</text>
<text x="1013.6" y="1297.6" font-size="20.5" fill="#333" textLength="129.5" lengthAdjust="spacingAndGlyphs" stroke="#333" stroke-width="0.55" text-anchor="middle">Permeability</text>
<text x="972.6" y="1329.7" font-size="21" fill="#333" textLength="24" lengthAdjust="spacingAndGlyphs" stroke="#333" stroke-width="0.55">10</text>
<text x="996.9" y="1320.7" font-size="12" fill="#333" textLength="9" lengthAdjust="spacingAndGlyphs">-9</text>
<text x="1013.9" y="1329.7" font-size="21" fill="#333" textLength="19" lengthAdjust="spacingAndGlyphs" stroke="#333" stroke-width="0.55">m</text>
<text x="1033.4" y="1320.7" font-size="12" fill="#333">2</text>
<g>
<path d="M1566 1447L1581 1438" stroke="#e9f4b0" stroke-width="6" fill="none"/>
<path d="M1555 1489L1567 1463" stroke="#e4f2a8" stroke-width="7" fill="none"/>
<path d="M1539.4 1492.5L1554.1 1488.5L1541.8 1519.5L1540.9 1504.5Z" fill="#cfe9a0"/>
<path d="M1527.1 1518.1L1543.9 1514.1L1531.5 1545.1L1528.6 1530.1Z" fill="#b9e0a0"/>
<path d="M1511.5 1546L1532.7 1542L1519.6 1573L1513 1558Z" fill="#a6d9a2"/>
<path d="M1499.3 1576.1L1520 1572.1L1504.2 1603.1L1500.8 1588.1Z" fill="#a6d9a2"/>
<path d="M1484.8 1603L1506.5 1599L1489.2 1630L1486.3 1615Z" fill="#7fcba6"/>
<path d="M1470.3 1629.1L1491.5 1625.1L1476.7 1656.1L1471.8 1641.1Z" fill="#74c6a6"/>
<path d="M1456.9 1654.7L1479.3 1650.7L1463.4 1681.7L1458.4 1666.7Z" fill="#74c6a6"/>
<path d="M1441.9 1681.5L1465.6 1677.5L1445.6 1708.5L1443.4 1693.5Z" fill="#5fb4ae"/>
<path d="M1429.1 1712.7L1445.5 1708.7L1421.6 1739.7L1430.6 1724.7Z" fill="#6cc3a6"/>
<path d="M1553.5 1514L1552.5 1528L1535.1 1536Z" fill="#f6a55e"/>
<path d="M1553 1514L1538.9 1534" stroke="#8a5a2a" stroke-width="1.6" fill="none"/>
<path d="M1540.5 1548L1539.5 1562L1520.9 1570Z" fill="#f9b56c"/>
<path d="M1540 1548L1524.8 1568" stroke="#8a5a2a" stroke-width="1.6" fill="none"/>
<path d="M1526 1592L1525 1606L1497.7 1614Z" fill="#f7a461"/>
<path d="M1525.5 1592L1501.9 1612" stroke="#8a5a2a" stroke-width="1.6" fill="none"/>
<path d="M1510 1625L1509 1639L1481.1 1647Z" fill="#fde3a0"/>
<path d="M1509.5 1625L1485 1645" stroke="#8a5a2a" stroke-width="1.6" fill="none"/>
<path d="M1548.3 1498.1L1537.2 1525.9L1526 1553.8L1513.8 1581.7L1504 1600L1491.5 1621L1474.8 1656L1458.1 1688L1444 1708L1434 1721" stroke="#e3f2a6" stroke-width="8" fill="none" stroke-linejoin="round"/>
<path d="M1548.3 1498.1L1537.2 1525.9L1526 1553.8L1513.8 1581.7L1504 1600L1491.5 1621L1474.8 1656L1458.1 1688L1444 1708L1434 1721" stroke="#f6f7b4" stroke-width="3.5" fill="none" stroke-linejoin="round" transform="translate(1.5 0.6)"/>
<path d="M1537.2 1525.9L1526 1553.8L1513.8 1581.7L1504 1600L1491.5 1621L1474.8 1656L1458.1 1688" stroke="#fbe9a6" stroke-width="3" fill="none" stroke-linejoin="round" transform="translate(6 2.6)"/>
<path d="M1415 1741L1428 1735.5" stroke="#2f8fb0" stroke-width="4" fill="none"/>
<text x="1515.5" y="1616.5" font-size="13.5" fill="#6a4a1a" transform="rotate(-60 1515.5 1616.5)" font-weight="bold" text-anchor="middle">800000</text>
</g>
<path d="M1605.7 1348.7H1621.7M1613.7 1340.7V1356.7" stroke="#2a2f2a" stroke-width="1.4" fill="none"/>
<text x="1592" y="1381.3" font-size="23" fill="#0c0c0c" textLength="61.3" lengthAdjust="spacingAndGlyphs" font-weight="bold">J-172</text>
<path d="M1515.3 1631.9H1531.3M1523.3 1623.9V1639.9" stroke="#2a2f2a" stroke-width="1.4" fill="none"/>
<text x="1489.8" y="1669.2" font-size="23" fill="#0c0c0c" textLength="60.8" lengthAdjust="spacingAndGlyphs" font-weight="bold">J-166</text>
<path d="M1379.6 1784.2H1395.6M1387.6 1776.2V1792.2" stroke="#2a2f2a" stroke-width="1.4" fill="none"/>
<text x="1361.7" y="1814.8" font-size="23" fill="#0c0c0c" textLength="61.2" lengthAdjust="spacingAndGlyphs" font-weight="bold">J-173</text>
<path d="M1192.2 1609.9L1385.9 1439.8L1503 1410.5C1510 1406.2 1531.3 1394.6 1545 1385C1558.7 1375.4 1572 1363.8 1585 1353C1598 1342.2 1616.6 1325.4 1622.9 1319.9" stroke="#ff0000" stroke-width="3.2" fill="none" stroke-linejoin="round"/>
<path d="M1192.2 1609.9L1271.3 1831.5" stroke="#ff0000" stroke-width="3.2" fill="none"/>
<path d="M1296.3 1518.5L1311.3 1505.3L1319.9 1515.1L1304.9 1528.3Z" fill="#ff0000"/>
<path d="M1502 1411.9L1518 1401.5L1525 1412.4L1509.1 1422.8Z" fill="#ff0000"/>
<path d="M1231.6 1720.4L1238 1738.2L1249.3 1734.2L1242.9 1716.3Z" fill="#ff0000"/>
<text x="1565" y="1352" font-size="29" fill="#f2142a" stroke="#f2142a" stroke-width="0.55" text-anchor="middle">A</text>
<text x="1219.8" y="1769.5" font-size="29" fill="#f2142a" stroke="#f2142a" stroke-width="0.55" text-anchor="middle">B</text>
<path d="M1849.9 1335.3V1385.5M1841.1 1364.3L1849.9 1335.3L1858.7 1364.3" stroke="#1a1a1a" stroke-width="1.6" fill="none"/>
<text x="1849.9" y="1413.3" font-size="30" fill="#111" stroke="#111" stroke-width="0.55" text-anchor="middle">N</text>
<path d="M1192.4 1308.1V1840.5M1183.4 1317.1H1897M1183.4 1831.5H1897M1888 1308.1V1840.5M1192.4 1308.1V1317.1M1192.4 1831.5V1840.5M1250.4 1308.1V1317.1M1250.4 1831.5V1840.5M1308.3 1308.1V1317.1M1308.3 1831.5V1840.5M1366.3 1308.1V1317.1M1366.3 1831.5V1840.5M1424.3 1308.1V1317.1M1424.3 1831.5V1840.5M1482.2 1308.1V1317.1M1482.2 1831.5V1840.5M1540.2 1308.1V1317.1M1540.2 1831.5V1840.5M1598.2 1308.1V1317.1M1598.2 1831.5V1840.5M1656.1 1308.1V1317.1M1656.1 1831.5V1840.5M1714.1 1308.1V1317.1M1714.1 1831.5V1840.5M1772.1 1308.1V1317.1M1772.1 1831.5V1840.5M1830 1308.1V1317.1M1830 1831.5V1840.5M1888 1308.1V1317.1M1888 1831.5V1840.5M1183.4 1317.1H1192.4M1888 1317.1H1897M1183.4 1374.3H1192.4M1888 1374.3H1897M1183.4 1431.4H1192.4M1888 1431.4H1897M1183.4 1488.6H1192.4M1888 1488.6H1897M1183.4 1545.7H1192.4M1888 1545.7H1897M1183.4 1602.9H1192.4M1888 1602.9H1897M1183.4 1660H1192.4M1888 1660H1897M1183.4 1717.2H1192.4M1888 1717.2H1897M1183.4 1774.3H1192.4M1888 1774.3H1897M1183.4 1831.5H1192.4M1888 1831.5H1897" stroke="#6a6a6a" stroke-width="1.9" fill="none"/>
<text x="1180.6" y="1324.1" font-size="19.5" fill="#3a3a3a" textLength="78.8" lengthAdjust="spacingAndGlyphs" stroke="#3a3a3a" stroke-width="0.55" text-anchor="end">5029200</text>
<text x="1180.6" y="1381.3" font-size="19.5" fill="#3a3a3a" textLength="78.8" lengthAdjust="spacingAndGlyphs" stroke="#3a3a3a" stroke-width="0.55" text-anchor="end">5029100</text>
<text x="1180.6" y="1438.4" font-size="19.5" fill="#3a3a3a" textLength="78.8" lengthAdjust="spacingAndGlyphs" stroke="#3a3a3a" stroke-width="0.55" text-anchor="end">5029000</text>
<text x="1180.6" y="1495.6" font-size="19.5" fill="#3a3a3a" textLength="78.8" lengthAdjust="spacingAndGlyphs" stroke="#3a3a3a" stroke-width="0.55" text-anchor="end">5028900</text>
<text x="1180.6" y="1552.7" font-size="19.5" fill="#3a3a3a" textLength="78.8" lengthAdjust="spacingAndGlyphs" stroke="#3a3a3a" stroke-width="0.55" text-anchor="end">5028800</text>
<text x="1180.6" y="1609.9" font-size="19.5" fill="#3a3a3a" textLength="78.8" lengthAdjust="spacingAndGlyphs" stroke="#3a3a3a" stroke-width="0.55" text-anchor="end">5028700</text>
<text x="1180.6" y="1667" font-size="19.5" fill="#3a3a3a" textLength="78.8" lengthAdjust="spacingAndGlyphs" stroke="#3a3a3a" stroke-width="0.55" text-anchor="end">5028600</text>
<text x="1180.6" y="1724.2" font-size="19.5" fill="#3a3a3a" textLength="78.8" lengthAdjust="spacingAndGlyphs" stroke="#3a3a3a" stroke-width="0.55" text-anchor="end">5028500</text>
<text x="1180.6" y="1781.3" font-size="19.5" fill="#3a3a3a" textLength="78.8" lengthAdjust="spacingAndGlyphs" stroke="#3a3a3a" stroke-width="0.55" text-anchor="end">5028400</text>
<text x="1180.6" y="1838.5" font-size="19.5" fill="#3a3a3a" textLength="78.8" lengthAdjust="spacingAndGlyphs" stroke="#3a3a3a" stroke-width="0.55" text-anchor="end">5028300</text>
<text x="1192.4" y="1861.9" font-size="19.5" fill="#3a3a3a" textLength="79.1" lengthAdjust="spacingAndGlyphs" stroke="#3a3a3a" stroke-width="0.55" text-anchor="middle">6420200</text>
<text x="1308.3" y="1861.9" font-size="19.5" fill="#3a3a3a" textLength="79.1" lengthAdjust="spacingAndGlyphs" stroke="#3a3a3a" stroke-width="0.55" text-anchor="middle">6420400</text>
<text x="1424.3" y="1861.9" font-size="19.5" fill="#3a3a3a" textLength="79.1" lengthAdjust="spacingAndGlyphs" stroke="#3a3a3a" stroke-width="0.55" text-anchor="middle">6420600</text>
<text x="1540.2" y="1861.9" font-size="19.5" fill="#3a3a3a" textLength="79.1" lengthAdjust="spacingAndGlyphs" stroke="#3a3a3a" stroke-width="0.55" text-anchor="middle">6420800</text>
<text x="1656.1" y="1861.9" font-size="19.5" fill="#3a3a3a" textLength="79.1" lengthAdjust="spacingAndGlyphs" stroke="#3a3a3a" stroke-width="0.55" text-anchor="middle">6421000</text>
<text x="1772.1" y="1861.9" font-size="19.5" fill="#3a3a3a" textLength="79.1" lengthAdjust="spacingAndGlyphs" stroke="#3a3a3a" stroke-width="0.55" text-anchor="middle">6421200</text>
<text x="1888" y="1861.9" font-size="19.5" fill="#3a3a3a" textLength="79.1" lengthAdjust="spacingAndGlyphs" stroke="#3a3a3a" stroke-width="0.55" text-anchor="middle">6421400</text>
<rect x="1976.7" y="1356.7" width="29.3" height="57.4" fill="#dc4a33"/>
<rect x="1976.7" y="1413.8" width="29.3" height="57.4" fill="#f47d4a"/>
<rect x="1976.7" y="1470.9" width="29.3" height="57.4" fill="#fbb468"/>
<rect x="1976.7" y="1528" width="29.3" height="57.4" fill="#fee8a0"/>
<rect x="1976.7" y="1585.1" width="29.3" height="57.4" fill="#eff7a6"/>
<rect x="1976.7" y="1642.2" width="29.3" height="57.4" fill="#bde3a0"/>
<rect x="1976.7" y="1699.3" width="29.3" height="57.4" fill="#74c8a8"/>
<rect x="1976.7" y="1756.4" width="29.3" height="57.4" fill="#3a8bbe"/>
<path d="M1976.7 1356.7H2006V1813.5H1976.7Z" stroke="#6a6a5a" stroke-opacity="0.7" stroke-width="1.1" fill="none"/>
<path d="M1976.7 1413.8H2006M1976.7 1470.9H2006M1976.7 1528H2006M1976.7 1585.1H2006M1976.7 1642.2H2006M1976.7 1699.3H2006M1976.7 1756.4H2006" stroke="#3c3a22" stroke-opacity="0.72" stroke-width="2" fill="none"/>
<text x="2012.4" y="1420.8" font-size="20" fill="#333" textLength="45.2" lengthAdjust="spacingAndGlyphs" stroke="#333" stroke-width="0.55">1000</text>
<text x="2012.4" y="1477.9" font-size="20" fill="#333" textLength="33.9" lengthAdjust="spacingAndGlyphs" stroke="#333" stroke-width="0.55">900</text>
<text x="2012.4" y="1535" font-size="20" fill="#333" textLength="33.9" lengthAdjust="spacingAndGlyphs" stroke="#333" stroke-width="0.55">800</text>
<text x="2012.4" y="1592.1" font-size="20" fill="#333" textLength="33.9" lengthAdjust="spacingAndGlyphs" stroke="#333" stroke-width="0.55">700</text>
<text x="2012.4" y="1649.2" font-size="20" fill="#333" textLength="33.9" lengthAdjust="spacingAndGlyphs" stroke="#333" stroke-width="0.55">600</text>
<text x="2012.4" y="1706.3" font-size="20" fill="#333" textLength="33.9" lengthAdjust="spacingAndGlyphs" stroke="#333" stroke-width="0.55">500</text>
<text x="2012.4" y="1763.4" font-size="20" fill="#333" textLength="33.9" lengthAdjust="spacingAndGlyphs" stroke="#333" stroke-width="0.55">400</text>
<text x="2012.4" y="1820.5" font-size="20" fill="#333" textLength="33.9" lengthAdjust="spacingAndGlyphs" stroke="#333" stroke-width="0.55">300</text>
<text x="1990.4" y="1304.6" font-size="19.5" fill="#333" textLength="94" lengthAdjust="spacingAndGlyphs" stroke="#333" stroke-width="0.55" text-anchor="middle">Quantities</text>
<text x="1946.4" y="1332.5" font-size="19.5" fill="#333" textLength="75" lengthAdjust="spacingAndGlyphs" stroke="#333" stroke-width="0.55">(1000 m</text>
<text x="2021.9" y="1324.5" font-size="11" fill="#333" textLength="5.5" lengthAdjust="spacingAndGlyphs">3</text>
<text x="2028.4" y="1332.5" font-size="19.5" fill="#333" stroke="#333" stroke-width="0.55">)</text>
<text x="89.8" y="366.4" font-size="34" fill="#111" text-anchor="middle" style="font-family:'DejaVu Sans','Liberation Sans',sans-serif" textLength="529.2" lengthAdjust="spacingAndGlyphs" transform="rotate(-90 89.8 366.4)">INVERSE DISTANCE WEIGHTING</text>
<text x="80.3" y="954.8" font-size="34" fill="#111" text-anchor="middle" style="font-family:'DejaVu Sans','Liberation Sans',sans-serif" textLength="459.5" lengthAdjust="spacingAndGlyphs" transform="rotate(-90 80.3 954.8)">NEAREST NEIGHBOURHOOD</text>
<text x="80.3" y="1579.2" font-size="34" fill="#111" text-anchor="middle" style="font-family:'DejaVu Sans','Liberation Sans',sans-serif" textLength="356.5" lengthAdjust="spacingAndGlyphs" transform="rotate(-90 80.3 1579.2)">NATURAL NEIGHBOUR</text>
<text x="2175.7" y="369.1" font-size="34" fill="#111" text-anchor="middle" style="font-family:'DejaVu Sans','Liberation Sans',sans-serif" textLength="530.7" lengthAdjust="spacingAndGlyphs" transform="rotate(-90 2175.7 369.1)">INVERSE DISTANCE WEIGHTING</text>
<text x="2175.7" y="957.9" font-size="34" fill="#111" text-anchor="middle" style="font-family:'DejaVu Sans','Liberation Sans',sans-serif" textLength="458.3" lengthAdjust="spacingAndGlyphs" transform="rotate(-90 2175.7 957.9)">NEAREST NEIGHBOURHOOD</text>
<text x="2174.9" y="1582.7" font-size="34" fill="#111" text-anchor="middle" style="font-family:'DejaVu Sans','Liberation Sans',sans-serif" textLength="357.9" lengthAdjust="spacingAndGlyphs" transform="rotate(-90 2174.9 1582.7)">NATURAL NEIGHBOUR</text>
<text x="2218.4" y="276.5" font-size="31" fill="#111" textLength="142.6" lengthAdjust="spacingAndGlyphs" stroke="#111" stroke-width="0.55" style="font-family:'DejaVu Sans','Liberation Sans',sans-serif">LEGEND:</text>
<path d="M2220 316.4H2238M2229 307.4V325.4" stroke="#111" stroke-width="2.2" fill="none"/>
<text x="2266.4" y="325.3" font-size="31" fill="#111" textLength="86.6" lengthAdjust="spacingAndGlyphs" stroke="#111" stroke-width="0.55" style="font-family:'DejaVu Sans','Liberation Sans',sans-serif">WELL</text>
<text x="2260.3" y="380.2" font-size="31" fill="#111" textLength="136.2" lengthAdjust="spacingAndGlyphs" stroke="#111" stroke-width="0.55" style="font-family:'DejaVu Sans','Liberation Sans',sans-serif">NORMAL</text>
<text x="2271.7" y="418.9" font-size="31" fill="#111" textLength="93.1" lengthAdjust="spacingAndGlyphs" stroke="#111" stroke-width="0.55" style="font-family:'DejaVu Sans','Liberation Sans',sans-serif">FAULT</text>
<path d="M2203.3 384.3H2246.8" stroke="#ff0000" stroke-width="4" fill="none"/>
<rect x="2219.6" y="376.8" width="14" height="7" fill="#ff0000"/>
<text x="2210.7" y="899.5" font-size="31" fill="#111" textLength="141.9" lengthAdjust="spacingAndGlyphs" stroke="#111" stroke-width="0.55" style="font-family:'DejaVu Sans','Liberation Sans',sans-serif">LEGEND:</text>
<path d="M2211.8 940.1H2229.8M2220.8 931.1V949.1" stroke="#111" stroke-width="2.2" fill="none"/>
<text x="2259" y="949" font-size="31" fill="#111" textLength="85.9" lengthAdjust="spacingAndGlyphs" stroke="#111" stroke-width="0.55" style="font-family:'DejaVu Sans','Liberation Sans',sans-serif">WELL</text>
<text x="2252.1" y="1002.8" font-size="31" fill="#111" textLength="136.3" lengthAdjust="spacingAndGlyphs" stroke="#111" stroke-width="0.55" style="font-family:'DejaVu Sans','Liberation Sans',sans-serif">NORMAL</text>
<text x="2263.1" y="1042.6" font-size="31" fill="#111" textLength="94.8" lengthAdjust="spacingAndGlyphs" stroke="#111" stroke-width="0.55" style="font-family:'DejaVu Sans','Liberation Sans',sans-serif">FAULT</text>
<path d="M2196.4 1008H2240" stroke="#ff0000" stroke-width="4" fill="none"/>
<rect x="2212.7" y="1000.5" width="14" height="7" fill="#ff0000"/>
<text x="2203.3" y="1461.9" font-size="31" fill="#111" textLength="142.4" lengthAdjust="spacingAndGlyphs" stroke="#111" stroke-width="0.55" style="font-family:'DejaVu Sans','Liberation Sans',sans-serif">LEGEND:</text>
<path d="M2204.5 1502.5H2222.5M2213.5 1493.5V1511.5" stroke="#111" stroke-width="2.2" fill="none"/>
<text x="2252.1" y="1510.7" font-size="31" fill="#111" textLength="85.4" lengthAdjust="spacingAndGlyphs" stroke="#111" stroke-width="0.55" style="font-family:'DejaVu Sans','Liberation Sans',sans-serif">WELL</text>
<text x="2244" y="1565.6" font-size="31" fill="#111" textLength="137" lengthAdjust="spacingAndGlyphs" stroke="#111" stroke-width="0.55" style="font-family:'DejaVu Sans','Liberation Sans',sans-serif">NORMAL</text>
<text x="2255.4" y="1606.2" font-size="31" fill="#111" textLength="94.3" lengthAdjust="spacingAndGlyphs" stroke="#111" stroke-width="0.55" style="font-family:'DejaVu Sans','Liberation Sans',sans-serif">FAULT</text>
<path d="M2188.3 1570.4H2233" stroke="#ff0000" stroke-width="4" fill="none"/>
<rect x="2205.2" y="1562.9" width="14" height="7" fill="#ff0000"/>
</svg>
</body></html>
